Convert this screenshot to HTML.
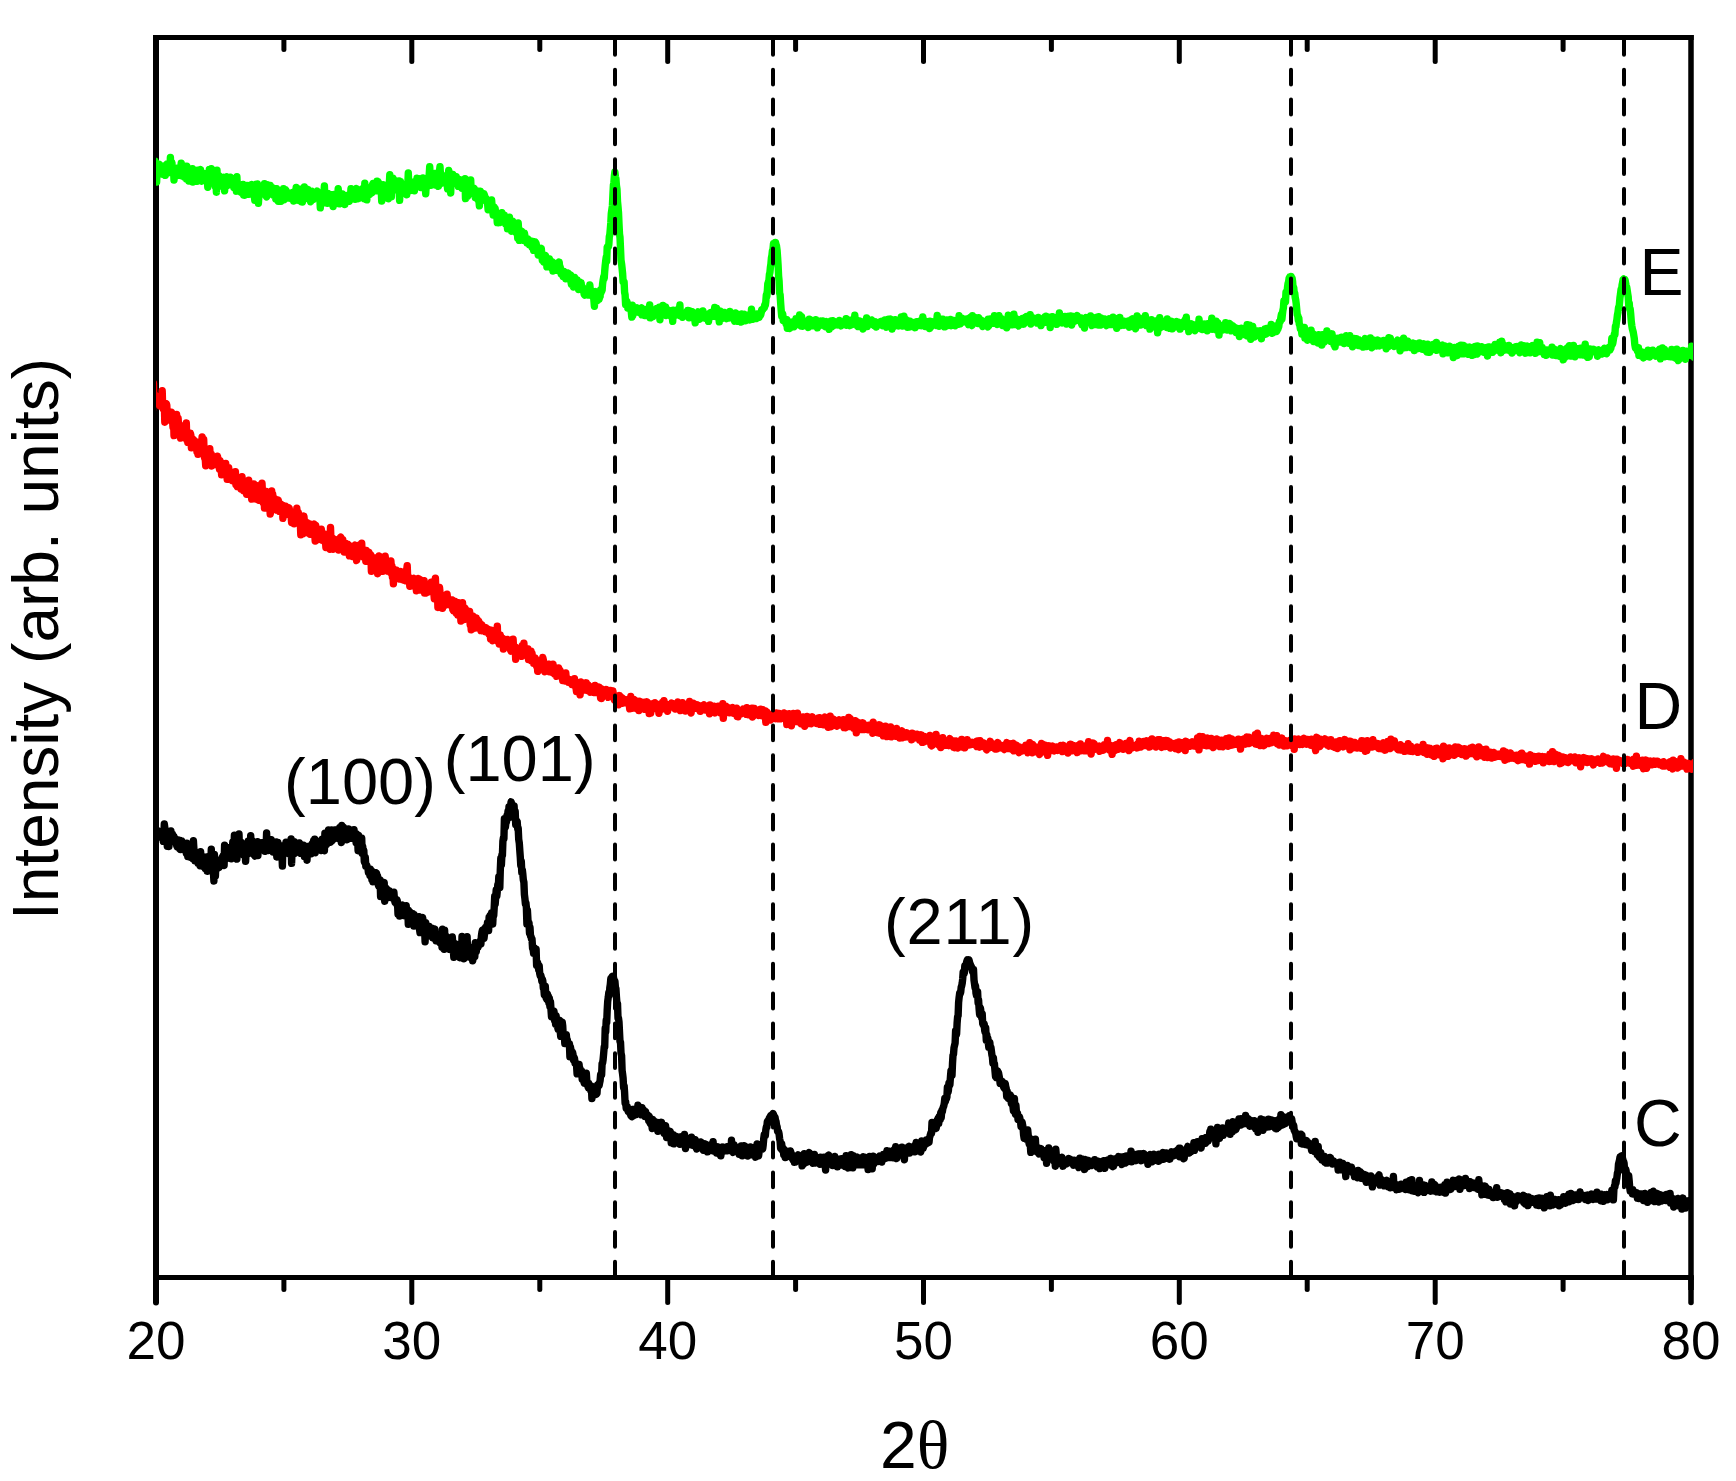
<!DOCTYPE html>
<html><head><meta charset="utf-8"><title>XRD</title>
<style>
html,body{margin:0;padding:0;background:#fff;}
body{width:1736px;height:1481px;overflow:hidden;}
svg{display:block;}
text{font-family:"Liberation Sans",Arial,sans-serif;fill:#000;}
</style></head><body>
<svg width="1736" height="1481" viewBox="0 0 1736 1481">
<rect width="1736" height="1481" fill="#fff"/>
<g stroke="#000" fill="none">
<line x1="156" y1="35" x2="156" y2="1290" stroke-width="6"/>
<line x1="1691" y1="35" x2="1691" y2="1290" stroke-width="5.5"/>
<line x1="153" y1="37.5" x2="1693.7" y2="37.5" stroke-width="5"/>
<line x1="153" y1="1277.5" x2="1693.7" y2="1277.5" stroke-width="5"/>
<g stroke-width="5" stroke-linecap="round"><line x1="156.0" y1="1277.5" x2="156.0" y2="1302.5" stroke-width="6"/><line x1="283.9" y1="1277.5" x2="283.9" y2="1289.5"/><line x1="283.9" y1="37.5" x2="283.9" y2="49.5"/><line x1="411.8" y1="1277.5" x2="411.8" y2="1302.5"/><line x1="411.8" y1="37.5" x2="411.8" y2="61.5"/><line x1="539.8" y1="1277.5" x2="539.8" y2="1289.5"/><line x1="539.8" y1="37.5" x2="539.8" y2="49.5"/><line x1="667.7" y1="1277.5" x2="667.7" y2="1302.5"/><line x1="667.7" y1="37.5" x2="667.7" y2="61.5"/><line x1="795.6" y1="1277.5" x2="795.6" y2="1289.5"/><line x1="795.6" y1="37.5" x2="795.6" y2="49.5"/><line x1="923.5" y1="1277.5" x2="923.5" y2="1302.5"/><line x1="923.5" y1="37.5" x2="923.5" y2="61.5"/><line x1="1051.4" y1="1277.5" x2="1051.4" y2="1289.5"/><line x1="1051.4" y1="37.5" x2="1051.4" y2="49.5"/><line x1="1179.3" y1="1277.5" x2="1179.3" y2="1302.5"/><line x1="1179.3" y1="37.5" x2="1179.3" y2="61.5"/><line x1="1307.2" y1="1277.5" x2="1307.2" y2="1289.5"/><line x1="1307.2" y1="37.5" x2="1307.2" y2="49.5"/><line x1="1435.2" y1="1277.5" x2="1435.2" y2="1302.5"/><line x1="1435.2" y1="37.5" x2="1435.2" y2="61.5"/><line x1="1563.1" y1="1277.5" x2="1563.1" y2="1289.5"/><line x1="1563.1" y1="37.5" x2="1563.1" y2="49.5"/><line x1="1691.0" y1="1277.5" x2="1691.0" y2="1302.5" stroke-width="5.5"/></g>
</g>
<clipPath id="cp"><rect x="156" y="0" width="1537" height="1481"/></clipPath>
<g fill="none" stroke-linejoin="round" stroke-linecap="round" stroke-width="7.4" clip-path="url(#cp)">
<polyline stroke="#00ff00" points="152.0,177.6 152.5,159.3 153.0,171.0 153.5,167.0 154.0,167.4 154.6,168.3 155.1,161.0 155.6,168.1 156.1,165.5 156.6,182.1 157.1,169.7 157.6,167.3 158.1,167.5 158.6,165.9 159.2,164.3 159.7,166.9 160.2,170.3 160.7,167.4 161.2,172.1 161.7,167.4 162.2,168.2 162.7,174.2 163.3,170.1 163.8,165.9 164.3,167.1 164.8,169.9 165.3,175.4 165.8,166.5 166.3,166.6 166.8,171.5 167.3,164.0 167.9,166.5 168.4,171.3 168.9,170.3 169.4,168.6 169.9,171.1 170.4,157.4 170.9,172.9 171.4,165.2 171.9,162.6 172.5,170.6 173.0,172.4 173.5,168.1 174.0,180.1 174.5,170.4 175.0,170.3 175.5,176.3 176.0,173.8 176.6,171.9 177.1,175.7 177.6,170.7 178.1,168.0 178.6,174.2 179.1,174.4 179.6,171.5 180.1,169.4 180.6,173.6 181.2,163.1 181.7,175.9 182.2,175.3 182.7,167.1 183.2,174.0 183.7,170.1 184.2,177.1 184.7,166.3 185.2,170.8 185.8,177.2 186.3,179.1 186.8,166.1 187.3,172.7 187.8,176.0 188.3,172.4 188.8,181.1 189.3,170.2 189.9,176.4 190.4,170.9 190.9,180.6 191.4,175.1 191.9,173.8 192.4,168.6 192.9,182.0 193.4,178.4 193.9,178.4 194.5,180.0 195.0,177.0 195.5,173.2 196.0,172.6 196.5,172.7 197.0,181.3 197.5,170.2 198.0,173.7 198.5,174.8 199.1,177.0 199.6,178.5 200.1,171.4 200.6,169.6 201.1,176.4 201.6,181.2 202.1,179.5 202.6,177.4 203.2,175.4 203.7,177.9 204.2,175.8 204.7,180.1 205.2,173.8 205.7,177.5 206.2,176.6 206.7,179.3 207.2,178.1 207.8,187.2 208.3,183.2 208.8,183.2 209.3,169.5 209.8,176.2 210.3,175.2 210.8,179.7 211.3,168.8 211.8,182.4 212.4,182.1 212.9,173.0 213.4,174.4 213.9,175.2 214.4,178.6 214.9,181.1 215.4,186.7 215.9,178.1 216.4,192.2 217.0,170.2 217.5,186.2 218.0,182.4 218.5,185.0 219.0,175.6 219.5,179.2 220.0,176.9 220.5,186.1 221.1,182.9 221.6,179.3 222.1,178.9 222.6,182.7 223.1,178.2 223.6,177.5 224.1,183.1 224.6,190.9 225.1,180.6 225.7,179.5 226.2,177.3 226.7,176.8 227.2,184.1 227.7,185.5 228.2,182.4 228.7,183.8 229.2,183.1 229.7,183.4 230.3,177.1 230.8,181.3 231.3,183.7 231.8,180.4 232.3,181.7 232.8,180.5 233.3,182.5 233.8,187.3 234.4,182.6 234.9,183.7 235.4,187.5 235.9,187.0 236.4,191.2 236.9,176.8 237.4,188.3 237.9,183.3 238.4,185.8 239.0,188.6 239.5,189.7 240.0,189.7 240.5,186.5 241.0,192.2 241.5,185.1 242.0,185.8 242.5,189.5 243.0,184.5 243.6,195.0 244.1,190.8 244.6,195.3 245.1,187.1 245.6,185.9 246.1,188.1 246.6,190.4 247.1,185.5 247.7,189.4 248.2,188.0 248.7,194.4 249.2,185.8 249.7,192.5 250.2,186.2 250.7,185.1 251.2,186.2 251.7,184.6 252.3,189.8 252.8,193.3 253.3,190.1 253.8,192.0 254.3,196.0 254.8,200.4 255.3,190.8 255.8,189.2 256.3,184.3 256.9,193.4 257.4,184.0 257.9,193.3 258.4,203.2 258.9,195.4 259.4,191.0 259.9,188.3 260.4,192.9 260.9,189.5 261.5,191.0 262.0,191.8 262.5,191.2 263.0,191.0 263.5,188.6 264.0,191.1 264.5,183.8 265.0,191.3 265.6,187.4 266.1,196.2 266.6,196.8 267.1,184.6 267.6,192.6 268.1,191.6 268.6,188.1 269.1,194.1 269.6,190.4 270.2,185.5 270.7,191.2 271.2,191.7 271.7,192.7 272.2,187.7 272.7,194.7 273.2,195.2 273.7,188.1 274.2,190.0 274.8,192.2 275.3,190.4 275.8,199.1 276.3,193.4 276.8,188.8 277.3,189.7 277.8,192.5 278.3,201.3 278.9,192.1 279.4,193.2 279.9,194.7 280.4,192.7 280.9,201.4 281.4,190.9 281.9,195.7 282.4,193.6 282.9,195.3 283.5,188.6 284.0,199.7 284.5,192.6 285.0,193.2 285.5,189.6 286.0,190.4 286.5,195.3 287.0,197.0 287.5,196.1 288.1,197.9 288.6,196.1 289.1,193.5 289.6,196.6 290.1,195.8 290.6,193.2 291.1,196.4 291.6,198.6 292.2,194.7 292.7,192.5 293.2,196.6 293.7,201.1 294.2,193.3 294.7,193.8 295.2,193.7 295.7,198.9 296.2,187.4 296.8,195.8 297.3,198.9 297.8,191.5 298.3,200.2 298.8,196.7 299.3,192.7 299.8,195.5 300.3,189.1 300.8,192.8 301.4,201.8 301.9,191.7 302.4,202.0 302.9,194.9 303.4,198.9 303.9,195.5 304.4,187.0 304.9,193.3 305.5,196.2 306.0,191.2 306.5,190.6 307.0,197.0 307.5,193.3 308.0,189.5 308.5,193.3 309.0,199.1 309.5,194.2 310.1,199.5 310.6,201.8 311.1,196.3 311.6,192.0 312.1,191.5 312.6,196.3 313.1,199.7 313.6,197.5 314.1,198.6 314.7,195.0 315.2,197.8 315.7,195.0 316.2,195.6 316.7,192.0 317.2,191.0 317.7,195.1 318.2,192.8 318.7,193.4 319.3,199.5 319.8,196.6 320.3,207.9 320.8,200.5 321.3,194.8 321.8,200.1 322.3,198.5 322.8,194.7 323.4,201.4 323.9,194.4 324.4,185.9 324.9,200.3 325.4,195.1 325.9,202.9 326.4,195.0 326.9,193.1 327.4,203.3 328.0,193.5 328.5,198.3 329.0,203.0 329.5,198.1 330.0,197.4 330.5,198.1 331.0,200.8 331.5,194.8 332.0,200.1 332.6,200.0 333.1,206.5 333.6,196.6 334.1,194.5 334.6,200.7 335.1,196.5 335.6,199.1 336.1,198.5 336.7,202.4 337.2,195.7 337.7,197.8 338.2,188.7 338.7,194.9 339.2,203.9 339.7,195.7 340.2,195.7 340.7,193.8 341.3,200.5 341.8,199.0 342.3,194.0 342.8,200.9 343.3,199.4 343.8,201.2 344.3,195.8 344.8,204.5 345.3,199.4 345.9,197.2 346.4,195.5 346.9,196.4 347.4,200.3 347.9,195.9 348.4,200.7 348.9,198.7 349.4,201.3 350.0,199.1 350.5,195.7 351.0,188.6 351.5,196.6 352.0,198.3 352.5,195.8 353.0,197.0 353.5,193.0 354.0,193.1 354.6,190.8 355.1,199.3 355.6,194.6 356.1,191.9 356.6,188.6 357.1,192.8 357.6,198.7 358.1,194.8 358.6,190.2 359.2,198.1 359.7,198.0 360.2,196.1 360.7,195.3 361.2,196.5 361.7,194.0 362.2,194.7 362.7,188.7 363.2,197.2 363.8,192.2 364.3,198.8 364.8,183.3 365.3,193.5 365.8,194.4 366.3,189.3 366.8,199.9 367.3,193.1 367.9,192.3 368.4,187.9 368.9,189.2 369.4,193.5 369.9,194.3 370.4,189.7 370.9,189.5 371.4,189.8 371.9,192.8 372.5,184.7 373.0,183.5 373.5,188.8 374.0,184.0 374.5,185.9 375.0,188.3 375.5,189.8 376.0,183.8 376.5,190.9 377.1,181.1 377.6,189.9 378.1,181.8 378.6,182.9 379.1,190.2 379.6,186.1 380.1,184.6 380.6,185.9 381.2,189.3 381.7,201.0 382.2,187.4 382.7,191.5 383.2,184.7 383.7,185.6 384.2,185.4 384.7,191.8 385.2,191.1 385.8,192.2 386.3,187.1 386.8,186.6 387.3,190.4 387.8,185.6 388.3,198.7 388.8,189.8 389.3,184.4 389.8,174.6 390.4,186.5 390.9,193.6 391.4,196.8 391.9,186.5 392.4,186.9 392.9,178.1 393.4,187.6 393.9,186.7 394.5,182.6 395.0,189.7 395.5,180.6 396.0,185.8 396.5,187.1 397.0,181.8 397.5,189.8 398.0,190.5 398.5,181.1 399.1,181.0 399.6,200.4 400.1,186.1 400.6,181.5 401.1,184.9 401.6,185.5 402.1,185.2 402.6,188.9 403.1,187.1 403.7,192.3 404.2,190.7 404.7,187.9 405.2,189.3 405.7,190.2 406.2,187.7 406.7,194.8 407.2,188.1 407.8,185.0 408.3,172.9 408.8,184.8 409.3,186.4 409.8,185.5 410.3,190.6 410.8,184.8 411.3,182.9 411.8,185.1 412.4,182.1 412.9,184.3 413.4,183.5 413.9,184.5 414.4,190.8 414.9,181.7 415.4,183.3 415.9,182.3 416.4,185.6 417.0,178.3 417.5,180.1 418.0,182.5 418.5,184.7 419.0,182.3 419.5,180.4 420.0,178.9 420.5,184.1 421.0,187.6 421.6,183.2 422.1,182.6 422.6,183.5 423.1,178.0 423.6,180.4 424.1,180.4 424.6,182.5 425.1,181.1 425.7,193.8 426.2,185.4 426.7,187.5 427.2,179.9 427.7,182.4 428.2,181.8 428.7,183.8 429.2,175.0 429.7,166.7 430.3,178.8 430.8,185.4 431.3,180.8 431.8,178.9 432.3,179.8 432.8,183.8 433.3,176.9 433.8,178.7 434.3,178.3 434.9,173.4 435.4,185.1 435.9,182.2 436.4,179.8 436.9,184.4 437.4,176.1 437.9,179.4 438.4,186.4 439.0,183.4 439.5,170.9 440.0,166.6 440.5,175.4 441.0,183.5 441.5,177.5 442.0,178.5 442.5,181.7 443.0,175.8 443.6,180.1 444.1,182.3 444.6,181.0 445.1,180.6 445.6,176.7 446.1,181.0 446.6,177.3 447.1,184.0 447.6,188.9 448.2,176.0 448.7,170.4 449.2,177.1 449.7,180.2 450.2,182.8 450.7,193.0 451.2,175.6 451.7,175.5 452.3,183.5 452.8,174.4 453.3,183.0 453.8,178.1 454.3,182.2 454.8,182.3 455.3,182.9 455.8,183.3 456.3,176.6 456.9,181.9 457.4,181.1 457.9,182.6 458.4,186.4 458.9,180.9 459.4,179.5 459.9,179.8 460.4,181.7 460.9,186.1 461.5,180.3 462.0,188.2 462.5,185.2 463.0,183.5 463.5,179.6 464.0,185.9 464.5,187.9 465.0,178.8 465.5,198.6 466.1,192.5 466.6,187.8 467.1,188.7 467.6,196.3 468.1,192.1 468.6,184.3 469.1,187.9 469.6,187.7 470.2,188.1 470.7,180.0 471.2,192.2 471.7,187.3 472.2,190.6 472.7,189.9 473.2,194.0 473.7,190.0 474.2,188.4 474.8,193.8 475.3,197.4 475.8,191.3 476.3,198.0 476.8,194.2 477.3,191.6 477.8,199.6 478.3,191.2 478.8,198.4 479.4,205.9 479.9,197.0 480.4,191.1 480.9,192.9 481.4,200.4 481.9,197.5 482.4,197.5 482.9,196.2 483.5,200.1 484.0,193.8 484.5,195.4 485.0,199.6 485.5,197.6 486.0,198.7 486.5,201.6 487.0,201.9 487.5,202.2 488.1,209.7 488.6,207.8 489.1,209.2 489.6,205.2 490.1,204.0 490.6,201.2 491.1,205.7 491.6,200.0 492.1,206.0 492.7,211.5 493.2,215.1 493.7,213.3 494.2,207.3 494.7,212.8 495.2,208.7 495.7,215.0 496.2,212.2 496.8,216.1 497.3,222.6 497.8,217.3 498.3,222.7 498.8,215.5 499.3,214.2 499.8,220.5 500.3,222.4 500.8,214.8 501.4,217.5 501.9,212.7 502.4,217.5 502.9,221.8 503.4,218.8 503.9,217.6 504.4,215.2 504.9,221.8 505.4,223.8 506.0,223.5 506.5,222.8 507.0,218.0 507.5,228.9 508.0,223.1 508.5,223.3 509.0,226.8 509.5,217.3 510.1,225.0 510.6,225.2 511.1,227.4 511.6,231.2 512.1,228.7 512.6,221.3 513.1,226.9 513.6,229.2 514.1,229.4 514.7,225.1 515.2,224.3 515.7,232.2 516.2,231.9 516.7,231.2 517.2,225.9 517.7,238.0 518.2,222.9 518.7,231.8 519.3,240.4 519.8,233.4 520.3,235.1 520.8,230.9 521.3,239.7 521.8,231.4 522.3,236.9 522.8,236.9 523.3,233.5 523.9,240.3 524.4,233.2 524.9,236.0 525.4,238.6 525.9,237.8 526.4,241.1 526.9,243.0 527.4,239.5 528.0,239.1 528.5,239.6 529.0,240.6 529.5,244.8 530.0,241.9 530.5,244.4 531.0,243.2 531.5,241.2 532.0,247.1 532.6,241.5 533.1,245.3 533.6,250.4 534.1,242.6 534.6,246.4 535.1,242.0 535.6,245.8 536.1,243.2 536.6,247.2 537.2,247.2 537.7,249.9 538.2,255.0 538.7,251.6 539.2,253.4 539.7,251.8 540.2,251.9 540.7,250.7 541.3,248.3 541.8,254.7 542.3,260.2 542.8,257.2 543.3,254.8 543.8,262.1 544.3,256.4 544.8,256.5 545.3,255.3 545.9,256.7 546.4,259.5 546.9,266.9 547.4,260.9 547.9,259.1 548.4,261.0 548.9,262.8 549.4,259.0 549.9,265.1 550.5,267.4 551.0,266.8 551.5,268.0 552.0,262.8 552.5,261.9 553.0,271.0 553.5,270.7 554.0,263.3 554.6,268.7 555.1,268.5 555.6,270.3 556.1,269.6 556.6,267.8 557.1,270.2 557.6,270.3 558.1,270.1 558.6,265.1 559.2,262.1 559.7,268.8 560.2,266.7 560.7,272.4 561.2,274.1 561.7,273.1 562.2,271.5 562.7,273.1 563.2,276.5 563.8,271.4 564.3,276.4 564.8,276.1 565.3,275.2 565.8,278.8 566.3,273.0 566.8,278.0 567.3,273.0 567.8,273.8 568.4,273.4 568.9,278.0 569.4,274.6 569.9,277.9 570.4,275.0 570.9,281.6 571.4,284.2 571.9,280.2 572.5,284.6 573.0,282.0 573.5,287.0 574.0,281.7 574.5,277.5 575.0,286.4 575.5,282.4 576.0,280.4 576.5,281.9 577.1,279.7 577.6,284.2 578.1,282.2 578.6,289.6 579.1,287.8 579.6,282.0 580.1,282.9 580.6,285.9 581.1,282.7 581.7,288.0 582.2,288.7 582.7,287.2 583.2,288.3 583.7,291.5 584.2,294.4 584.7,295.1 585.2,291.6 585.8,294.2 586.3,290.3 586.8,293.6 587.3,290.3 587.8,295.0 588.3,290.1 588.8,291.1 589.3,293.9 589.8,285.0 590.4,290.7 590.9,293.4 591.4,295.4 591.9,295.9 592.4,293.4 592.9,296.2 593.4,295.5 593.9,300.1 594.4,306.3 595.0,293.6 595.5,291.6 596.0,297.9 596.5,300.9 597.0,298.6 597.5,300.7 598.0,297.3 598.5,294.7 599.1,299.4 599.6,296.5 600.1,296.7 600.6,290.0 601.1,292.7 601.6,288.9 602.1,290.5 602.6,283.8 603.1,280.3 603.7,276.8 604.2,278.4 604.7,271.3 605.2,265.4 605.7,261.0 606.2,257.2 606.7,261.0 607.2,247.2 607.7,246.3 608.3,247.0 608.8,244.8 609.3,236.7 609.8,234.8 610.3,229.0 610.8,223.0 611.3,213.5 611.8,209.9 612.4,206.0 612.9,195.2 613.4,185.2 613.9,182.4 614.4,175.7 614.9,172.1 615.4,176.5 615.9,178.6 616.4,185.4 617.0,189.4 617.5,201.3 618.0,206.5 618.5,212.5 619.0,224.0 619.5,234.0 620.0,237.4 620.5,248.4 621.0,260.1 621.6,264.0 622.1,268.5 622.6,273.3 623.1,281.9 623.6,281.2 624.1,281.8 624.6,292.4 625.1,294.7 625.6,304.5 626.2,302.4 626.7,301.2 627.2,302.5 627.7,308.0 628.2,305.6 628.7,306.8 629.2,308.2 629.7,308.8 630.3,308.9 630.8,309.0 631.3,312.1 631.8,317.0 632.3,305.1 632.8,315.5 633.3,309.7 633.8,312.5 634.3,307.8 634.9,310.5 635.4,310.3 635.9,310.2 636.4,312.1 636.9,311.7 637.4,307.8 637.9,310.1 638.4,312.2 638.9,312.2 639.5,309.9 640.0,310.1 640.5,310.5 641.0,308.3 641.5,307.9 642.0,314.9 642.5,310.1 643.0,311.4 643.6,309.3 644.1,314.3 644.6,315.5 645.1,310.7 645.6,312.5 646.1,309.5 646.6,315.6 647.1,313.6 647.6,309.4 648.2,314.5 648.7,312.4 649.2,312.5 649.7,304.9 650.2,317.9 650.7,310.3 651.2,313.2 651.7,311.6 652.2,309.4 652.8,316.7 653.3,311.3 653.8,310.5 654.3,310.2 654.8,313.5 655.3,314.3 655.8,312.5 656.3,314.1 656.9,308.4 657.4,311.1 657.9,310.9 658.4,312.1 658.9,313.3 659.4,307.2 659.9,319.7 660.4,310.1 660.9,313.1 661.5,314.3 662.0,314.4 662.5,312.9 663.0,305.4 663.5,309.8 664.0,314.3 664.5,310.3 665.0,310.0 665.5,306.9 666.1,315.5 666.6,313.8 667.1,310.5 667.6,312.3 668.1,312.4 668.6,310.0 669.1,312.1 669.6,313.4 670.1,314.2 670.7,315.9 671.2,313.0 671.7,311.9 672.2,314.0 672.7,321.4 673.2,310.1 673.7,315.9 674.2,312.3 674.8,313.6 675.3,314.9 675.8,310.7 676.3,315.0 676.8,314.5 677.3,313.3 677.8,314.5 678.3,311.8 678.8,308.4 679.4,313.0 679.9,305.0 680.4,315.9 680.9,314.5 681.4,312.6 681.9,314.1 682.4,317.3 682.9,316.8 683.4,315.0 684.0,315.2 684.5,313.6 685.0,314.0 685.5,315.7 686.0,314.1 686.5,315.1 687.0,311.8 687.5,310.5 688.1,310.5 688.6,313.6 689.1,317.8 689.6,317.5 690.1,312.4 690.6,311.1 691.1,316.8 691.6,316.0 692.1,311.7 692.7,317.5 693.2,315.5 693.7,318.3 694.2,316.0 694.7,317.3 695.2,322.9 695.7,313.1 696.2,314.8 696.7,313.8 697.3,317.4 697.8,313.2 698.3,311.9 698.8,317.2 699.3,318.4 699.8,319.1 700.3,318.4 700.8,312.2 701.4,314.2 701.9,314.6 702.4,315.9 702.9,310.9 703.4,315.9 703.9,316.5 704.4,313.5 704.9,315.9 705.4,318.3 706.0,315.5 706.5,317.8 707.0,317.6 707.5,316.0 708.0,315.9 708.5,321.4 709.0,317.7 709.5,313.5 710.0,312.9 710.6,316.1 711.1,312.6 711.6,315.2 712.1,316.6 712.6,314.2 713.1,314.1 713.6,316.0 714.1,315.4 714.7,307.5 715.2,310.3 715.7,316.5 716.2,314.2 716.7,308.2 717.2,309.9 717.7,313.3 718.2,311.0 718.7,314.7 719.3,321.9 719.8,315.0 720.3,311.2 720.8,315.6 721.3,318.9 721.8,312.5 722.3,317.7 722.8,317.0 723.3,316.4 723.9,314.8 724.4,312.4 724.9,313.2 725.4,317.3 725.9,317.9 726.4,318.6 726.9,318.2 727.4,318.2 727.9,315.1 728.5,313.5 729.0,316.9 729.5,317.8 730.0,311.4 730.5,313.3 731.0,315.8 731.5,313.7 732.0,317.7 732.6,315.0 733.1,317.2 733.6,318.5 734.1,318.2 734.6,321.2 735.1,315.4 735.6,312.9 736.1,320.2 736.6,321.2 737.2,321.3 737.7,318.5 738.2,319.1 738.7,318.1 739.2,314.7 739.7,316.4 740.2,318.9 740.7,316.3 741.2,322.1 741.8,314.0 742.3,316.6 742.8,320.2 743.3,316.1 743.8,314.8 744.3,314.3 744.8,315.7 745.3,320.9 745.9,318.3 746.4,318.5 746.9,316.1 747.4,319.2 747.9,317.5 748.4,315.0 748.9,316.1 749.4,317.6 749.9,319.9 750.5,316.9 751.0,318.2 751.5,309.2 752.0,315.1 752.5,314.0 753.0,319.2 753.5,317.9 754.0,316.6 754.5,317.4 755.1,316.0 755.6,318.0 756.1,315.9 756.6,318.6 757.1,313.9 757.6,314.6 758.1,316.6 758.6,314.9 759.2,317.3 759.7,315.2 760.2,313.6 760.7,315.0 761.2,312.8 761.7,309.9 762.2,310.1 762.7,309.6 763.2,308.7 763.8,308.0 764.3,307.8 764.8,304.7 765.3,305.6 765.8,301.8 766.3,295.0 766.8,296.5 767.3,291.7 767.8,283.7 768.4,282.1 768.9,280.5 769.4,274.5 769.9,272.6 770.4,267.3 770.9,264.0 771.4,258.0 771.9,255.6 772.4,250.9 773.0,249.1 773.5,243.6 774.0,243.8 774.5,243.5 775.0,242.5 775.5,242.5 776.0,244.5 776.5,246.0 777.1,250.5 777.6,257.5 778.1,265.6 778.6,276.2 779.1,281.1 779.6,293.1 780.1,294.6 780.6,302.4 781.1,309.3 781.7,316.3 782.2,315.4 782.7,313.7 783.2,320.6 783.7,320.2 784.2,318.4 784.7,319.1 785.2,320.5 785.7,322.8 786.3,324.5 786.8,319.7 787.3,328.4 787.8,323.0 788.3,322.3 788.8,324.7 789.3,323.4 789.8,328.5 790.4,325.7 790.9,322.3 791.4,322.2 791.9,322.0 792.4,322.4 792.9,324.7 793.4,321.7 793.9,326.9 794.4,323.0 795.0,322.8 795.5,325.3 796.0,318.6 796.5,321.0 797.0,324.6 797.5,323.2 798.0,323.2 798.5,317.8 799.0,321.8 799.6,315.0 800.1,320.1 800.6,318.9 801.1,326.1 801.6,316.8 802.1,321.6 802.6,326.4 803.1,325.7 803.7,322.0 804.2,322.0 804.7,323.0 805.2,321.0 805.7,324.5 806.2,323.6 806.7,323.5 807.2,325.0 807.7,324.9 808.3,327.5 808.8,326.7 809.3,319.3 809.8,325.3 810.3,320.7 810.8,320.0 811.3,324.9 811.8,321.7 812.3,322.6 812.9,325.7 813.4,321.8 813.9,321.3 814.4,324.1 814.9,326.1 815.4,324.5 815.9,319.8 816.4,321.8 817.0,323.0 817.5,327.8 818.0,325.4 818.5,325.3 819.0,326.1 819.5,322.6 820.0,324.4 820.5,324.5 821.0,321.1 821.6,323.3 822.1,324.7 822.6,320.9 823.1,325.2 823.6,325.1 824.1,325.8 824.6,321.6 825.1,323.6 825.6,326.7 826.2,325.2 826.7,321.6 827.2,323.9 827.7,326.7 828.2,323.2 828.7,324.3 829.2,329.3 829.7,323.3 830.2,323.2 830.8,321.1 831.3,321.9 831.8,326.8 832.3,323.1 832.8,320.7 833.3,321.3 833.8,323.5 834.3,325.2 834.9,321.7 835.4,325.1 835.9,322.3 836.4,324.3 836.9,324.6 837.4,324.8 837.9,322.5 838.4,323.1 838.9,324.6 839.5,320.5 840.0,323.8 840.5,324.6 841.0,325.8 841.5,323.3 842.0,323.0 842.5,323.7 843.0,321.7 843.5,322.9 844.1,324.4 844.6,324.1 845.1,321.0 845.6,322.7 846.1,318.6 846.6,325.2 847.1,322.2 847.6,323.9 848.2,320.9 848.7,323.2 849.2,324.4 849.7,325.6 850.2,320.3 850.7,325.3 851.2,323.0 851.7,321.6 852.2,324.5 852.8,322.7 853.3,322.7 853.8,321.8 854.3,323.9 854.8,315.3 855.3,323.0 855.8,321.2 856.3,322.2 856.8,324.3 857.4,326.3 857.9,323.3 858.4,326.6 858.9,323.3 859.4,320.9 859.9,324.8 860.4,321.1 860.9,324.3 861.5,325.8 862.0,322.6 862.5,323.2 863.0,329.0 863.5,323.9 864.0,324.0 864.5,325.1 865.0,323.1 865.5,323.2 866.1,324.2 866.6,317.9 867.1,326.6 867.6,320.9 868.1,320.9 868.6,324.6 869.1,323.4 869.6,320.5 870.1,323.8 870.7,320.7 871.2,321.8 871.7,319.9 872.2,321.5 872.7,324.3 873.2,323.6 873.7,324.1 874.2,325.5 874.7,323.3 875.3,321.8 875.8,322.7 876.3,327.1 876.8,323.4 877.3,324.1 877.8,323.1 878.3,323.9 878.8,324.3 879.4,323.3 879.9,323.0 880.4,321.6 880.9,321.4 881.4,324.3 881.9,325.1 882.4,325.5 882.9,323.5 883.4,321.5 884.0,324.8 884.5,324.8 885.0,319.9 885.5,325.2 886.0,324.7 886.5,327.2 887.0,320.8 887.5,320.4 888.0,325.2 888.6,319.3 889.1,321.7 889.6,320.9 890.1,321.0 890.6,319.0 891.1,322.8 891.6,325.6 892.1,329.1 892.7,324.4 893.2,322.6 893.7,326.7 894.2,324.6 894.7,325.8 895.2,319.8 895.7,324.2 896.2,320.8 896.7,324.2 897.3,323.8 897.8,320.8 898.3,323.8 898.8,326.0 899.3,324.5 899.8,324.7 900.3,321.4 900.8,321.8 901.3,317.0 901.9,323.7 902.4,326.1 902.9,324.4 903.4,323.4 903.9,316.3 904.4,324.4 904.9,322.9 905.4,319.1 906.0,319.5 906.5,322.6 907.0,321.4 907.5,327.2 908.0,323.5 908.5,321.0 909.0,322.2 909.5,327.0 910.0,321.2 910.6,325.1 911.1,324.3 911.6,326.6 912.1,324.5 912.6,322.3 913.1,324.5 913.6,323.4 914.1,325.4 914.6,323.1 915.2,327.7 915.7,323.0 916.2,324.2 916.7,321.7 917.2,323.4 917.7,323.2 918.2,323.5 918.7,325.2 919.3,321.9 919.8,321.2 920.3,325.6 920.8,322.4 921.3,321.5 921.8,325.7 922.3,324.8 922.8,317.0 923.3,322.1 923.9,324.8 924.4,324.9 924.9,321.8 925.4,326.5 925.9,321.1 926.4,322.4 926.9,323.2 927.4,322.9 927.9,324.7 928.5,325.2 929.0,322.8 929.5,328.5 930.0,321.3 930.5,322.3 931.0,326.7 931.5,323.0 932.0,325.2 932.5,321.8 933.1,322.1 933.6,322.5 934.1,323.1 934.6,321.9 935.1,322.7 935.6,324.2 936.1,325.4 936.6,322.9 937.2,315.5 937.7,324.7 938.2,320.2 938.7,319.0 939.2,326.3 939.7,325.6 940.2,322.7 940.7,323.4 941.2,320.4 941.8,319.4 942.3,323.2 942.8,319.1 943.3,324.6 943.8,320.9 944.3,323.1 944.8,326.9 945.3,326.7 945.8,321.8 946.4,324.8 946.9,320.0 947.4,321.0 947.9,323.2 948.4,325.5 948.9,321.0 949.4,323.6 949.9,322.5 950.5,319.4 951.0,322.0 951.5,325.7 952.0,322.0 952.5,323.4 953.0,324.1 953.5,320.5 954.0,325.0 954.5,325.6 955.1,325.8 955.6,325.1 956.1,321.1 956.6,320.8 957.1,320.3 957.6,320.0 958.1,320.2 958.6,324.3 959.1,315.8 959.7,320.5 960.2,323.9 960.7,319.1 961.2,321.2 961.7,319.7 962.2,318.2 962.7,322.0 963.2,322.1 963.8,321.0 964.3,320.7 964.8,319.6 965.3,321.5 965.8,320.4 966.3,322.4 966.8,319.0 967.3,322.3 967.8,322.9 968.4,324.6 968.9,324.2 969.4,322.2 969.9,320.1 970.4,317.5 970.9,321.7 971.4,324.9 971.9,325.5 972.4,315.8 973.0,319.9 973.5,320.8 974.0,319.2 974.5,322.0 975.0,321.6 975.5,320.4 976.0,321.4 976.5,317.8 977.0,319.3 977.6,319.4 978.1,323.5 978.6,317.7 979.1,321.0 979.6,323.2 980.1,321.3 980.6,323.3 981.1,319.9 981.7,322.4 982.2,323.5 982.7,326.5 983.2,323.0 983.7,324.7 984.2,321.4 984.7,321.6 985.2,325.0 985.7,322.7 986.3,324.6 986.8,322.9 987.3,326.2 987.8,326.8 988.3,319.3 988.8,325.6 989.3,322.3 989.8,322.4 990.3,321.0 990.9,322.9 991.4,318.7 991.9,319.5 992.4,319.4 992.9,321.9 993.4,323.3 993.9,322.9 994.4,315.7 995.0,319.8 995.5,317.1 996.0,322.1 996.5,321.5 997.0,321.9 997.5,324.4 998.0,320.7 998.5,320.6 999.0,315.7 999.6,322.4 1000.1,320.9 1000.6,319.3 1001.1,321.9 1001.6,318.6 1002.1,319.8 1002.6,325.5 1003.1,322.7 1003.6,323.1 1004.2,322.7 1004.7,322.4 1005.2,321.4 1005.7,326.2 1006.2,320.7 1006.7,327.7 1007.2,320.4 1007.7,320.1 1008.3,315.2 1008.8,316.4 1009.3,324.4 1009.8,324.3 1010.3,319.8 1010.8,320.7 1011.3,322.2 1011.8,318.5 1012.3,324.9 1012.9,318.3 1013.4,319.1 1013.9,314.3 1014.4,324.2 1014.9,320.8 1015.4,324.5 1015.9,318.4 1016.4,321.5 1016.9,320.8 1017.5,321.1 1018.0,325.4 1018.5,325.9 1019.0,323.8 1019.5,319.7 1020.0,322.7 1020.5,323.7 1021.0,321.9 1021.6,321.9 1022.1,321.7 1022.6,318.4 1023.1,321.1 1023.6,324.2 1024.1,318.2 1024.6,320.7 1025.1,322.4 1025.6,317.3 1026.2,320.1 1026.7,316.5 1027.2,319.0 1027.7,317.1 1028.2,318.3 1028.7,319.3 1029.2,319.7 1029.7,319.9 1030.2,314.8 1030.8,324.0 1031.3,319.7 1031.8,317.8 1032.3,318.8 1032.8,321.0 1033.3,317.9 1033.8,319.3 1034.3,319.2 1034.8,321.5 1035.4,318.5 1035.9,321.3 1036.4,321.0 1036.9,319.8 1037.4,323.1 1037.9,320.2 1038.4,317.4 1038.9,320.8 1039.5,320.4 1040.0,320.0 1040.5,320.7 1041.0,325.6 1041.5,320.6 1042.0,321.1 1042.5,319.5 1043.0,323.1 1043.5,319.9 1044.1,318.2 1044.6,317.2 1045.1,321.2 1045.6,321.7 1046.1,316.3 1046.6,318.3 1047.1,321.5 1047.6,322.4 1048.1,316.9 1048.7,319.1 1049.2,321.9 1049.7,318.8 1050.2,327.5 1050.7,318.7 1051.2,317.0 1051.7,320.1 1052.2,320.7 1052.8,316.7 1053.3,320.2 1053.8,322.6 1054.3,320.5 1054.8,322.2 1055.3,318.7 1055.8,323.2 1056.3,318.2 1056.8,324.4 1057.4,319.0 1057.9,318.3 1058.4,317.9 1058.9,319.0 1059.4,312.9 1059.9,318.4 1060.4,319.2 1060.9,321.5 1061.4,322.0 1062.0,319.2 1062.5,322.9 1063.0,317.7 1063.5,317.6 1064.0,317.4 1064.5,321.4 1065.0,316.4 1065.5,316.7 1066.1,323.0 1066.6,324.0 1067.1,323.1 1067.6,316.5 1068.1,320.0 1068.6,321.9 1069.1,320.2 1069.6,316.2 1070.1,319.2 1070.7,316.0 1071.2,317.1 1071.7,325.0 1072.2,321.6 1072.7,316.6 1073.2,316.5 1073.7,321.0 1074.2,318.6 1074.7,321.3 1075.3,318.5 1075.8,319.5 1076.3,320.5 1076.8,317.6 1077.3,315.5 1077.8,317.2 1078.3,318.4 1078.8,319.5 1079.3,319.8 1079.9,319.8 1080.4,321.2 1080.9,317.9 1081.4,323.3 1081.9,324.7 1082.4,321.0 1082.9,320.6 1083.4,323.1 1084.0,321.7 1084.5,328.0 1085.0,319.9 1085.5,318.6 1086.0,317.6 1086.5,321.9 1087.0,323.1 1087.5,317.9 1088.0,320.3 1088.6,321.0 1089.1,319.5 1089.6,318.7 1090.1,319.6 1090.6,316.0 1091.1,320.5 1091.6,319.9 1092.1,325.6 1092.6,322.9 1093.2,319.9 1093.7,320.7 1094.2,324.7 1094.7,324.5 1095.2,321.3 1095.7,320.6 1096.2,317.6 1096.7,320.2 1097.3,320.6 1097.8,319.3 1098.3,325.0 1098.8,316.7 1099.3,320.8 1099.8,322.0 1100.3,322.1 1100.8,325.1 1101.3,318.0 1101.9,319.5 1102.4,321.5 1102.9,321.6 1103.4,320.4 1103.9,319.6 1104.4,323.8 1104.9,319.0 1105.4,320.1 1105.9,324.8 1106.5,325.5 1107.0,323.5 1107.5,319.6 1108.0,319.6 1108.5,319.5 1109.0,319.0 1109.5,320.7 1110.0,324.6 1110.6,322.2 1111.1,320.0 1111.6,320.0 1112.1,319.1 1112.6,324.6 1113.1,317.2 1113.6,322.5 1114.1,318.6 1114.6,319.5 1115.2,318.5 1115.7,324.2 1116.2,321.8 1116.7,328.3 1117.2,319.7 1117.7,319.5 1118.2,323.4 1118.7,323.4 1119.2,321.5 1119.8,317.5 1120.3,325.5 1120.8,323.5 1121.3,323.1 1121.8,320.9 1122.3,323.7 1122.8,321.0 1123.3,322.4 1123.9,321.9 1124.4,325.2 1124.9,321.3 1125.4,321.6 1125.9,324.9 1126.4,322.9 1126.9,322.4 1127.4,321.9 1127.9,324.6 1128.5,321.0 1129.0,323.6 1129.5,327.2 1130.0,323.5 1130.5,320.8 1131.0,319.8 1131.5,322.9 1132.0,319.8 1132.5,319.0 1133.1,320.9 1133.6,320.2 1134.1,324.7 1134.6,319.4 1135.1,326.4 1135.6,328.8 1136.1,323.0 1136.6,324.3 1137.1,315.9 1137.7,324.5 1138.2,320.6 1138.7,317.7 1139.2,322.4 1139.7,319.1 1140.2,321.6 1140.7,325.1 1141.2,322.5 1141.8,321.6 1142.3,320.4 1142.8,322.4 1143.3,322.7 1143.8,319.4 1144.3,323.8 1144.8,320.7 1145.3,315.6 1145.8,322.1 1146.4,325.5 1146.9,325.2 1147.4,323.2 1147.9,323.0 1148.4,324.3 1148.9,326.5 1149.4,325.8 1149.9,329.1 1150.4,324.1 1151.0,327.0 1151.5,319.7 1152.0,324.7 1152.5,321.4 1153.0,326.6 1153.5,322.4 1154.0,323.3 1154.5,321.1 1155.1,323.7 1155.6,325.5 1156.1,327.5 1156.6,320.8 1157.1,322.8 1157.6,332.8 1158.1,326.0 1158.6,323.8 1159.1,325.1 1159.7,317.8 1160.2,327.6 1160.7,324.3 1161.2,320.7 1161.7,326.7 1162.2,322.6 1162.7,321.7 1163.2,325.3 1163.7,325.0 1164.3,323.1 1164.8,324.0 1165.3,321.1 1165.8,320.9 1166.3,326.3 1166.8,327.3 1167.3,318.9 1167.8,325.2 1168.4,323.4 1168.9,324.0 1169.4,322.2 1169.9,328.4 1170.4,323.1 1170.9,325.4 1171.4,324.5 1171.9,321.3 1172.4,328.9 1173.0,323.7 1173.5,322.8 1174.0,324.8 1174.5,322.5 1175.0,324.7 1175.5,322.4 1176.0,325.9 1176.5,324.8 1177.0,321.6 1177.6,327.1 1178.1,325.2 1178.6,322.2 1179.1,325.6 1179.6,325.8 1180.1,329.1 1180.6,322.9 1181.1,326.8 1181.6,324.7 1182.2,326.3 1182.7,324.4 1183.2,324.8 1183.7,326.1 1184.2,322.3 1184.7,320.3 1185.2,325.1 1185.7,324.1 1186.3,317.3 1186.8,326.7 1187.3,324.7 1187.8,328.0 1188.3,325.2 1188.8,331.6 1189.3,327.3 1189.8,326.7 1190.3,325.2 1190.9,325.7 1191.4,323.8 1191.9,324.1 1192.4,325.8 1192.9,327.4 1193.4,324.6 1193.9,327.6 1194.4,330.1 1194.9,330.6 1195.5,325.8 1196.0,328.2 1196.5,327.2 1197.0,327.6 1197.5,327.8 1198.0,327.1 1198.5,327.8 1199.0,319.1 1199.6,325.4 1200.1,326.6 1200.6,327.2 1201.1,328.9 1201.6,327.0 1202.1,327.9 1202.6,329.5 1203.1,324.1 1203.6,325.7 1204.2,327.5 1204.7,326.4 1205.2,324.0 1205.7,328.6 1206.2,326.3 1206.7,324.2 1207.2,330.8 1207.7,323.6 1208.2,326.5 1208.8,325.0 1209.3,326.8 1209.8,327.9 1210.3,324.8 1210.8,326.4 1211.3,326.4 1211.8,318.3 1212.3,329.4 1212.9,327.2 1213.4,326.2 1213.9,325.3 1214.4,326.1 1214.9,327.2 1215.4,325.9 1215.9,329.8 1216.4,321.2 1216.9,322.1 1217.5,326.5 1218.0,322.9 1218.5,327.0 1219.0,335.1 1219.5,328.6 1220.0,328.3 1220.5,330.4 1221.0,329.6 1221.5,330.4 1222.1,328.8 1222.6,330.1 1223.1,328.9 1223.6,326.5 1224.1,325.1 1224.6,325.2 1225.1,329.2 1225.6,322.7 1226.2,328.6 1226.7,326.6 1227.2,330.0 1227.7,328.9 1228.2,326.8 1228.7,328.6 1229.2,323.5 1229.7,329.3 1230.2,329.9 1230.8,324.7 1231.3,330.9 1231.8,328.8 1232.3,329.5 1232.8,326.0 1233.3,330.6 1233.8,330.6 1234.3,329.4 1234.8,327.3 1235.4,331.3 1235.9,332.4 1236.4,330.6 1236.9,332.0 1237.4,328.5 1237.9,330.3 1238.4,330.9 1238.9,330.4 1239.4,336.5 1240.0,331.2 1240.5,329.1 1241.0,332.3 1241.5,328.1 1242.0,331.4 1242.5,332.4 1243.0,329.6 1243.5,330.1 1244.1,328.8 1244.6,331.3 1245.1,329.5 1245.6,335.0 1246.1,332.7 1246.6,330.8 1247.1,324.6 1247.6,336.0 1248.1,334.4 1248.7,332.7 1249.2,332.1 1249.7,325.2 1250.2,330.8 1250.7,339.3 1251.2,332.4 1251.7,328.8 1252.2,330.6 1252.7,326.4 1253.3,333.7 1253.8,333.9 1254.3,336.1 1254.8,336.8 1255.3,330.4 1255.8,333.1 1256.3,334.3 1256.8,333.8 1257.4,330.9 1257.9,333.8 1258.4,333.1 1258.9,335.0 1259.4,331.8 1259.9,331.3 1260.4,330.7 1260.9,330.9 1261.4,338.8 1262.0,331.0 1262.5,332.8 1263.0,332.7 1263.5,334.6 1264.0,334.1 1264.5,333.0 1265.0,329.0 1265.5,332.8 1266.0,334.1 1266.6,328.5 1267.1,328.9 1267.6,329.3 1268.1,329.0 1268.6,330.7 1269.1,329.2 1269.6,332.1 1270.1,328.5 1270.7,330.9 1271.2,324.5 1271.7,328.9 1272.2,333.4 1272.7,331.0 1273.2,331.9 1273.7,329.8 1274.2,332.0 1274.7,331.6 1275.3,329.7 1275.8,325.9 1276.3,331.6 1276.8,331.1 1277.3,329.7 1277.8,329.2 1278.3,327.8 1278.8,326.4 1279.3,321.9 1279.9,322.2 1280.4,321.2 1280.9,317.1 1281.4,314.4 1281.9,319.2 1282.4,314.3 1282.9,310.3 1283.4,307.9 1283.9,300.9 1284.5,301.5 1285.0,301.5 1285.5,301.9 1286.0,291.9 1286.5,291.6 1287.0,292.9 1287.5,287.5 1288.0,283.8 1288.6,281.7 1289.1,278.3 1289.6,277.2 1290.1,278.9 1290.6,277.7 1291.1,276.5 1291.6,279.7 1292.1,278.1 1292.6,281.5 1293.2,289.8 1293.7,287.4 1294.2,292.7 1294.7,292.8 1295.2,297.4 1295.7,299.7 1296.2,303.6 1296.7,309.1 1297.2,314.7 1297.8,315.7 1298.3,320.1 1298.8,317.8 1299.3,324.6 1299.8,324.7 1300.3,328.5 1300.8,326.5 1301.3,328.9 1301.9,334.2 1302.4,333.8 1302.9,333.6 1303.4,332.7 1303.9,334.7 1304.4,327.4 1304.9,338.1 1305.4,336.0 1305.9,337.0 1306.5,339.0 1307.0,335.7 1307.5,340.2 1308.0,338.2 1308.5,337.9 1309.0,332.9 1309.5,334.7 1310.0,336.0 1310.5,337.0 1311.1,330.3 1311.6,339.2 1312.1,338.6 1312.6,337.8 1313.1,333.9 1313.6,341.5 1314.1,337.9 1314.6,339.8 1315.2,337.0 1315.7,338.5 1316.2,340.1 1316.7,339.1 1317.2,340.7 1317.7,338.3 1318.2,343.1 1318.7,334.6 1319.2,337.5 1319.8,340.9 1320.3,338.3 1320.8,337.9 1321.3,335.0 1321.8,345.1 1322.3,334.7 1322.8,340.1 1323.3,339.4 1323.8,340.9 1324.4,342.2 1324.9,337.5 1325.4,337.3 1325.9,338.4 1326.4,335.4 1326.9,330.9 1327.4,338.3 1327.9,339.6 1328.5,336.8 1329.0,339.3 1329.5,337.9 1330.0,339.1 1330.5,336.9 1331.0,341.6 1331.5,338.0 1332.0,333.8 1332.5,340.9 1333.1,338.8 1333.6,337.6 1334.1,345.0 1334.6,339.5 1335.1,346.9 1335.6,338.3 1336.1,340.6 1336.6,339.3 1337.1,342.5 1337.7,342.2 1338.2,338.2 1338.7,340.1 1339.2,341.4 1339.7,339.2 1340.2,339.1 1340.7,342.1 1341.2,341.2 1341.7,337.2 1342.3,339.1 1342.8,339.5 1343.3,340.2 1343.8,338.9 1344.3,343.5 1344.8,338.5 1345.3,338.3 1345.8,341.2 1346.4,335.8 1346.9,338.5 1347.4,342.2 1347.9,338.0 1348.4,339.1 1348.9,343.4 1349.4,342.1 1349.9,335.8 1350.4,341.7 1351.0,339.7 1351.5,341.9 1352.0,340.9 1352.5,346.8 1353.0,342.6 1353.5,340.7 1354.0,341.4 1354.5,341.7 1355.0,338.6 1355.6,339.9 1356.1,345.1 1356.6,338.7 1357.1,340.6 1357.6,344.1 1358.1,345.3 1358.6,339.8 1359.1,345.3 1359.7,341.3 1360.2,345.8 1360.7,343.3 1361.2,341.7 1361.7,343.9 1362.2,343.6 1362.7,340.7 1363.2,347.1 1363.7,341.7 1364.3,345.0 1364.8,341.5 1365.3,338.6 1365.8,340.1 1366.3,342.4 1366.8,344.1 1367.3,346.5 1367.8,342.8 1368.3,342.1 1368.9,340.0 1369.4,342.6 1369.9,343.4 1370.4,338.0 1370.9,345.7 1371.4,345.3 1371.9,347.8 1372.4,340.9 1373.0,343.0 1373.5,343.0 1374.0,340.1 1374.5,341.1 1375.0,340.9 1375.5,344.2 1376.0,344.0 1376.5,346.0 1377.0,342.2 1377.6,340.1 1378.1,344.1 1378.6,344.0 1379.1,344.7 1379.6,345.9 1380.1,342.0 1380.6,345.0 1381.1,341.1 1381.6,343.7 1382.2,344.9 1382.7,343.1 1383.2,343.9 1383.7,340.4 1384.2,342.1 1384.7,343.8 1385.2,340.9 1385.7,341.7 1386.2,348.8 1386.8,344.1 1387.3,341.8 1387.8,341.4 1388.3,346.6 1388.8,337.6 1389.3,342.9 1389.8,345.0 1390.3,338.2 1390.9,344.8 1391.4,341.4 1391.9,343.7 1392.4,343.9 1392.9,343.9 1393.4,344.2 1393.9,344.0 1394.4,346.4 1394.9,343.5 1395.5,342.8 1396.0,343.5 1396.5,343.5 1397.0,340.9 1397.5,340.1 1398.0,341.4 1398.5,345.0 1399.0,343.0 1399.5,343.6 1400.1,350.7 1400.6,347.0 1401.1,344.2 1401.6,343.3 1402.1,347.7 1402.6,343.1 1403.1,347.5 1403.6,338.1 1404.2,347.9 1404.7,343.4 1405.2,347.0 1405.7,341.2 1406.2,344.8 1406.7,347.5 1407.2,346.7 1407.7,341.3 1408.2,346.8 1408.8,346.4 1409.3,345.3 1409.8,343.9 1410.3,344.9 1410.8,344.3 1411.3,347.7 1411.8,346.7 1412.3,348.0 1412.8,347.3 1413.4,343.1 1413.9,346.2 1414.4,350.6 1414.9,343.6 1415.4,346.6 1415.9,344.4 1416.4,344.2 1416.9,346.6 1417.5,348.2 1418.0,347.9 1418.5,347.3 1419.0,348.4 1419.5,342.9 1420.0,348.3 1420.5,347.4 1421.0,346.2 1421.5,346.6 1422.1,344.9 1422.6,349.3 1423.1,345.2 1423.6,343.7 1424.1,346.9 1424.6,345.7 1425.1,346.9 1425.6,350.3 1426.1,346.8 1426.7,347.4 1427.2,352.1 1427.7,344.3 1428.2,348.1 1428.7,349.9 1429.2,350.7 1429.7,352.3 1430.2,346.1 1430.8,348.9 1431.3,347.4 1431.8,346.7 1432.3,346.2 1432.8,344.6 1433.3,348.5 1433.8,349.5 1434.3,345.6 1434.8,349.5 1435.4,346.8 1435.9,345.8 1436.4,342.4 1436.9,350.4 1437.4,349.6 1437.9,347.4 1438.4,347.3 1438.9,345.4 1439.4,349.3 1440.0,348.1 1440.5,349.5 1441.0,348.7 1441.5,345.3 1442.0,345.1 1442.5,349.3 1443.0,353.9 1443.5,349.1 1444.0,350.5 1444.6,345.8 1445.1,350.1 1445.6,348.8 1446.1,349.9 1446.6,347.4 1447.1,348.8 1447.6,349.8 1448.1,352.8 1448.7,350.5 1449.2,350.0 1449.7,346.2 1450.2,349.8 1450.7,347.6 1451.2,349.0 1451.7,349.8 1452.2,351.3 1452.7,350.5 1453.3,357.5 1453.8,349.2 1454.3,352.3 1454.8,347.5 1455.3,349.5 1455.8,352.4 1456.3,349.1 1456.8,351.3 1457.3,355.5 1457.9,353.9 1458.4,352.1 1458.9,346.2 1459.4,349.7 1459.9,350.4 1460.4,351.6 1460.9,345.1 1461.4,353.9 1462.0,352.2 1462.5,347.4 1463.0,348.6 1463.5,345.5 1464.0,353.7 1464.5,349.7 1465.0,349.7 1465.5,346.6 1466.0,349.1 1466.6,351.0 1467.1,349.2 1467.6,349.3 1468.1,348.8 1468.6,354.4 1469.1,349.0 1469.6,347.1 1470.1,349.1 1470.6,349.5 1471.2,350.1 1471.7,349.8 1472.2,355.4 1472.7,349.9 1473.2,351.2 1473.7,347.3 1474.2,354.6 1474.7,354.0 1475.3,346.4 1475.8,349.4 1476.3,352.3 1476.8,353.0 1477.3,353.9 1477.8,346.0 1478.3,347.6 1478.8,348.8 1479.3,351.0 1479.9,347.5 1480.4,350.7 1480.9,350.7 1481.4,351.2 1481.9,346.8 1482.4,350.0 1482.9,349.7 1483.4,348.6 1483.9,352.3 1484.5,348.8 1485.0,352.5 1485.5,348.0 1486.0,353.0 1486.5,352.8 1487.0,347.4 1487.5,356.0 1488.0,349.8 1488.5,347.0 1489.1,350.7 1489.6,350.3 1490.1,347.1 1490.6,349.1 1491.1,350.8 1491.6,348.5 1492.1,347.2 1492.6,352.3 1493.2,346.6 1493.7,349.4 1494.2,351.0 1494.7,350.3 1495.2,344.5 1495.7,347.8 1496.2,348.1 1496.7,347.9 1497.2,349.7 1497.8,349.5 1498.3,348.5 1498.8,348.8 1499.3,350.4 1499.8,342.3 1500.3,344.0 1500.8,352.8 1501.3,346.8 1501.8,341.3 1502.4,344.4 1502.9,346.9 1503.4,345.3 1503.9,350.4 1504.4,350.0 1504.9,348.1 1505.4,347.8 1505.9,349.0 1506.5,346.1 1507.0,346.9 1507.5,346.6 1508.0,350.0 1508.5,348.3 1509.0,345.5 1509.5,349.1 1510.0,349.5 1510.5,351.4 1511.1,347.2 1511.6,349.3 1512.1,353.0 1512.6,347.8 1513.1,347.7 1513.6,349.7 1514.1,347.5 1514.6,348.6 1515.1,347.5 1515.7,346.9 1516.2,350.6 1516.7,347.9 1517.2,346.5 1517.7,348.1 1518.2,348.5 1518.7,349.4 1519.2,350.8 1519.8,352.7 1520.3,346.2 1520.8,348.3 1521.3,345.0 1521.8,349.4 1522.3,350.1 1522.8,347.6 1523.3,347.0 1523.8,346.9 1524.4,345.8 1524.9,350.4 1525.4,353.2 1525.9,346.6 1526.4,352.6 1526.9,348.9 1527.4,346.1 1527.9,350.4 1528.4,350.8 1529.0,350.1 1529.5,348.7 1530.0,352.9 1530.5,348.7 1531.0,350.8 1531.5,350.8 1532.0,347.6 1532.5,345.6 1533.1,345.9 1533.6,348.8 1534.1,350.5 1534.6,346.0 1535.1,348.3 1535.6,353.3 1536.1,346.1 1536.6,351.1 1537.1,342.3 1537.7,351.9 1538.2,347.1 1538.7,351.0 1539.2,347.4 1539.7,342.6 1540.2,348.6 1540.7,351.4 1541.2,348.9 1541.7,351.0 1542.3,347.5 1542.8,351.4 1543.3,352.2 1543.8,350.9 1544.3,354.5 1544.8,351.9 1545.3,352.9 1545.8,352.3 1546.3,355.3 1546.9,349.9 1547.4,350.8 1547.9,351.0 1548.4,352.9 1548.9,352.2 1549.4,353.5 1549.9,352.4 1550.4,350.7 1551.0,351.8 1551.5,352.9 1552.0,347.1 1552.5,355.1 1553.0,351.0 1553.5,351.5 1554.0,352.9 1554.5,351.9 1555.0,349.3 1555.6,352.0 1556.1,355.6 1556.6,354.9 1557.1,355.4 1557.6,351.6 1558.1,352.4 1558.6,355.1 1559.1,356.0 1559.6,352.9 1560.2,350.7 1560.7,348.6 1561.2,355.9 1561.7,349.5 1562.2,353.7 1562.7,354.7 1563.2,359.8 1563.7,353.1 1564.3,352.5 1564.8,357.6 1565.3,353.8 1565.8,355.6 1566.3,354.2 1566.8,351.0 1567.3,348.1 1567.8,353.3 1568.3,351.1 1568.9,355.7 1569.4,345.7 1569.9,353.0 1570.4,351.0 1570.9,350.6 1571.4,356.1 1571.9,352.9 1572.4,352.1 1572.9,354.1 1573.5,345.5 1574.0,351.6 1574.5,351.0 1575.0,356.7 1575.5,353.1 1576.0,353.7 1576.5,354.8 1577.0,351.9 1577.6,352.0 1578.1,348.7 1578.6,353.3 1579.1,352.8 1579.6,351.3 1580.1,354.8 1580.6,348.3 1581.1,353.1 1581.6,349.1 1582.2,349.6 1582.7,351.6 1583.2,355.0 1583.7,349.5 1584.2,349.9 1584.7,349.4 1585.2,344.2 1585.7,353.2 1586.2,352.9 1586.8,356.5 1587.3,352.5 1587.8,357.4 1588.3,350.9 1588.8,349.4 1589.3,356.4 1589.8,348.9 1590.3,352.7 1590.8,350.9 1591.4,351.0 1591.9,352.0 1592.4,351.7 1592.9,350.5 1593.4,349.3 1593.9,350.6 1594.4,349.7 1594.9,350.0 1595.5,352.2 1596.0,351.6 1596.5,353.0 1597.0,351.5 1597.5,356.2 1598.0,350.4 1598.5,349.8 1599.0,354.2 1599.5,350.4 1600.1,352.2 1600.6,354.1 1601.1,351.8 1601.6,351.2 1602.1,354.1 1602.6,352.7 1603.1,350.8 1603.6,349.3 1604.1,351.1 1604.7,348.3 1605.2,350.0 1605.7,349.6 1606.2,352.6 1606.7,353.6 1607.2,350.5 1607.7,350.8 1608.2,348.9 1608.8,347.5 1609.3,348.8 1609.8,350.1 1610.3,349.0 1610.8,348.4 1611.3,345.4 1611.8,338.5 1612.3,344.7 1612.8,343.1 1613.4,339.3 1613.9,336.4 1614.4,333.9 1614.9,334.8 1615.4,326.5 1615.9,326.7 1616.4,322.4 1616.9,319.6 1617.4,315.2 1618.0,312.2 1618.5,307.8 1619.0,308.7 1619.5,303.1 1620.0,297.3 1620.5,294.2 1621.0,289.8 1621.5,290.7 1622.1,284.8 1622.6,282.6 1623.1,279.6 1623.6,279.0 1624.1,280.3 1624.6,279.3 1625.1,280.1 1625.6,282.8 1626.1,285.5 1626.7,287.0 1627.2,290.3 1627.7,293.7 1628.2,296.8 1628.7,305.6 1629.2,302.9 1629.7,309.3 1630.2,309.0 1630.7,314.2 1631.3,321.8 1631.8,325.6 1632.3,328.8 1632.8,330.5 1633.3,332.5 1633.8,335.5 1634.3,338.5 1634.8,344.5 1635.4,347.8 1635.9,347.6 1636.4,347.0 1636.9,347.2 1637.4,350.8 1637.9,350.4 1638.4,347.6 1638.9,355.4 1639.4,353.1 1640.0,352.9 1640.5,352.0 1641.0,352.1 1641.5,355.9 1642.0,351.9 1642.5,354.1 1643.0,355.3 1643.5,357.9 1644.0,355.2 1644.6,353.8 1645.1,352.9 1645.6,355.7 1646.1,356.0 1646.6,352.9 1647.1,355.1 1647.6,353.5 1648.1,350.2 1648.6,351.6 1649.2,355.5 1649.7,356.9 1650.2,355.2 1650.7,353.3 1651.2,352.2 1651.7,354.9 1652.2,354.4 1652.7,350.1 1653.3,355.1 1653.8,352.1 1654.3,355.1 1654.8,354.8 1655.3,355.2 1655.8,356.0 1656.3,355.2 1656.8,351.4 1657.3,351.5 1657.9,356.0 1658.4,354.8 1658.9,350.3 1659.4,349.4 1659.9,355.8 1660.4,358.8 1660.9,355.7 1661.4,353.4 1661.9,354.6 1662.5,348.0 1663.0,351.9 1663.5,356.3 1664.0,356.0 1664.5,349.5 1665.0,356.8 1665.5,355.4 1666.0,356.3 1666.6,353.8 1667.1,354.3 1667.6,352.0 1668.1,355.1 1668.6,356.4 1669.1,352.4 1669.6,355.3 1670.1,353.3 1670.6,356.8 1671.2,356.7 1671.7,349.4 1672.2,355.6 1672.7,356.9 1673.2,353.5 1673.7,354.2 1674.2,354.4 1674.7,352.3 1675.2,354.6 1675.8,358.2 1676.3,355.9 1676.8,349.2 1677.3,357.1 1677.8,357.6 1678.3,360.5 1678.8,356.6 1679.3,359.3 1679.9,358.1 1680.4,355.5 1680.9,353.2 1681.4,352.7 1681.9,355.1 1682.4,355.5 1682.9,350.5 1683.4,354.9 1683.9,355.2 1684.5,355.0 1685.0,353.1 1685.5,359.3 1686.0,356.1 1686.5,351.1 1687.0,352.5 1687.5,355.8 1688.0,355.1 1688.5,354.2 1689.1,353.8 1689.6,353.3 1690.1,352.7 1690.6,351.4 1691.1,354.9 1691.6,346.2 1692.1,351.9 1692.6,356.1 1693.1,351.6 1693.7,350.7 1694.2,357.4 1694.7,355.5 1695.2,352.8 1695.7,351.8 1696.2,352.5 1696.7,352.2"/>
<polyline stroke="#ff0000" points="152.0,393.7 152.5,410.0 153.0,392.0 153.5,383.3 154.0,403.5 154.6,401.2 155.1,395.1 155.6,400.8 156.1,399.2 156.6,396.1 157.1,403.8 157.6,398.5 158.1,399.1 158.6,397.7 159.2,404.1 159.7,402.2 160.2,405.9 160.7,401.3 161.2,405.3 161.7,401.3 162.2,390.8 162.7,407.6 163.3,408.9 163.8,410.0 164.3,404.2 164.8,422.2 165.3,419.5 165.8,403.4 166.3,403.6 166.8,405.3 167.3,416.6 167.9,414.0 168.4,418.9 168.9,417.8 169.4,416.1 169.9,416.9 170.4,415.5 170.9,420.7 171.4,412.2 171.9,416.0 172.5,419.6 173.0,427.2 173.5,416.1 174.0,435.6 174.5,418.2 175.0,425.6 175.5,420.8 176.0,428.4 176.6,414.5 177.1,428.6 177.6,428.7 178.1,418.3 178.6,425.9 179.1,431.2 179.6,426.7 180.1,431.4 180.6,438.1 181.2,429.2 181.7,427.3 182.2,425.7 182.7,432.6 183.2,429.4 183.7,430.0 184.2,430.9 184.7,434.9 185.2,427.8 185.8,426.4 186.3,422.9 186.8,439.8 187.3,435.4 187.8,442.4 188.3,436.3 188.8,433.6 189.3,439.7 189.9,437.8 190.4,433.2 190.9,435.5 191.4,447.9 191.9,442.2 192.4,443.1 192.9,440.6 193.4,439.4 193.9,447.1 194.5,443.3 195.0,441.0 195.5,444.4 196.0,441.6 196.5,447.0 197.0,451.8 197.5,443.7 198.0,454.4 198.5,445.7 199.1,450.0 199.6,446.2 200.1,449.5 200.6,451.3 201.1,449.8 201.6,449.2 202.1,437.0 202.6,449.5 203.2,446.5 203.7,439.5 204.2,455.8 204.7,458.3 205.2,457.5 205.7,465.7 206.2,456.7 206.7,453.6 207.2,464.1 207.8,451.6 208.3,460.8 208.8,452.6 209.3,458.7 209.8,448.8 210.3,461.7 210.8,457.4 211.3,454.1 211.8,466.0 212.4,462.3 212.9,459.5 213.4,456.3 213.9,459.7 214.4,459.5 214.9,463.7 215.4,464.3 215.9,458.2 216.4,459.1 217.0,459.4 217.5,456.2 218.0,459.8 218.5,462.3 219.0,466.1 219.5,469.3 220.0,460.6 220.5,467.1 221.1,463.3 221.6,474.8 222.1,466.1 222.6,469.1 223.1,463.4 223.6,464.5 224.1,469.5 224.6,467.5 225.1,471.2 225.7,463.5 226.2,473.7 226.7,467.5 227.2,479.4 227.7,471.3 228.2,477.8 228.7,467.6 229.2,476.0 229.7,470.9 230.3,473.2 230.8,476.0 231.3,475.0 231.8,478.1 232.3,480.7 232.8,480.9 233.3,478.3 233.8,473.3 234.4,476.3 234.9,479.5 235.4,471.8 235.9,484.6 236.4,480.9 236.9,481.2 237.4,486.6 237.9,485.7 238.4,484.1 239.0,479.2 239.5,485.1 240.0,485.5 240.5,480.5 241.0,489.1 241.5,487.1 242.0,476.8 242.5,486.0 243.0,480.4 243.6,490.9 244.1,489.8 244.6,481.9 245.1,483.2 245.6,487.7 246.1,486.5 246.6,494.3 247.1,491.3 247.7,487.2 248.2,491.2 248.7,480.3 249.2,490.6 249.7,493.3 250.2,489.1 250.7,487.1 251.2,492.9 251.7,499.1 252.3,491.9 252.8,486.6 253.3,497.8 253.8,483.9 254.3,494.3 254.8,490.0 255.3,496.7 255.8,489.5 256.3,499.0 256.9,494.9 257.4,486.6 257.9,485.9 258.4,493.2 258.9,500.3 259.4,495.7 259.9,495.7 260.4,494.7 260.9,499.2 261.5,498.0 262.0,483.3 262.5,492.9 263.0,502.4 263.5,503.5 264.0,492.6 264.5,508.1 265.0,501.8 265.6,497.0 266.1,491.4 266.6,502.5 267.1,502.5 267.6,497.9 268.1,493.2 268.6,505.9 269.1,499.0 269.6,499.8 270.2,514.1 270.7,511.5 271.2,506.8 271.7,491.0 272.2,506.2 272.7,494.2 273.2,504.6 273.7,501.3 274.2,499.4 274.8,498.5 275.3,507.7 275.8,506.2 276.3,506.9 276.8,510.1 277.3,503.3 277.8,502.0 278.3,500.1 278.9,506.5 279.4,511.4 279.9,508.0 280.4,511.6 280.9,504.3 281.4,507.6 281.9,506.7 282.4,505.0 282.9,518.4 283.5,514.5 284.0,508.1 284.5,508.4 285.0,511.7 285.5,506.2 286.0,514.4 286.5,507.5 287.0,511.7 287.5,509.2 288.1,511.9 288.6,508.6 289.1,507.9 289.6,510.8 290.1,512.3 290.6,514.3 291.1,516.1 291.6,522.5 292.2,519.9 292.7,515.7 293.2,520.1 293.7,514.6 294.2,523.8 294.7,520.4 295.2,512.8 295.7,521.9 296.2,522.5 296.8,508.3 297.3,516.6 297.8,518.1 298.3,512.4 298.8,516.3 299.3,517.1 299.8,523.5 300.3,522.9 300.8,534.8 301.4,520.7 301.9,527.5 302.4,523.3 302.9,533.9 303.4,518.9 303.9,516.1 304.4,521.1 304.9,527.8 305.5,531.5 306.0,527.8 306.5,527.8 307.0,522.6 307.5,532.8 308.0,532.4 308.5,525.0 309.0,527.4 309.5,523.8 310.1,534.3 310.6,530.3 311.1,528.6 311.6,531.1 312.1,531.6 312.6,528.4 313.1,525.4 313.6,525.6 314.1,524.1 314.7,533.5 315.2,541.1 315.7,525.4 316.2,533.3 316.7,534.8 317.2,529.4 317.7,534.7 318.2,529.7 318.7,539.5 319.3,532.5 319.8,535.7 320.3,538.5 320.8,534.3 321.3,529.1 321.8,534.6 322.3,540.3 322.8,537.2 323.4,538.8 323.9,533.9 324.4,539.2 324.9,542.0 325.4,539.5 325.9,547.5 326.4,539.3 326.9,536.3 327.4,534.3 328.0,545.9 328.5,541.4 329.0,546.1 329.5,544.1 330.0,549.2 330.5,527.4 331.0,541.4 331.5,544.2 332.0,547.6 332.6,538.3 333.1,549.4 333.6,548.6 334.1,547.8 334.6,543.2 335.1,545.4 335.6,539.8 336.1,544.7 336.7,542.2 337.2,545.1 337.7,542.9 338.2,546.3 338.7,550.1 339.2,540.1 339.7,549.3 340.2,537.6 340.7,537.1 341.3,545.6 341.8,546.2 342.3,548.2 342.8,539.8 343.3,546.4 343.8,547.3 344.3,552.1 344.8,546.7 345.3,549.4 345.9,543.5 346.4,546.9 346.9,546.0 347.4,550.8 347.9,544.1 348.4,544.9 348.9,550.7 349.4,555.8 350.0,550.3 350.5,550.1 351.0,547.6 351.5,553.6 352.0,551.5 352.5,556.5 353.0,551.0 353.5,546.0 354.0,547.7 354.6,546.1 355.1,545.2 355.6,555.6 356.1,553.9 356.6,560.6 357.1,558.1 357.6,552.2 358.1,547.6 358.6,553.3 359.2,551.7 359.7,549.2 360.2,544.8 360.7,553.1 361.2,554.4 361.7,543.1 362.2,556.0 362.7,556.6 363.2,552.5 363.8,555.2 364.3,553.9 364.8,551.9 365.3,554.2 365.8,561.3 366.3,550.4 366.8,557.4 367.3,557.5 367.9,554.2 368.4,555.6 368.9,552.1 369.4,554.6 369.9,558.3 370.4,559.9 370.9,555.3 371.4,571.4 371.9,557.2 372.5,560.3 373.0,559.1 373.5,558.8 374.0,565.9 374.5,559.0 375.0,566.6 375.5,566.1 376.0,557.7 376.5,566.3 377.1,559.9 377.6,573.7 378.1,561.5 378.6,559.6 379.1,556.0 379.6,558.7 380.1,561.9 380.6,560.5 381.2,559.9 381.7,562.3 382.2,564.5 382.7,571.4 383.2,559.1 383.7,564.0 384.2,562.7 384.7,560.8 385.2,556.2 385.8,563.8 386.3,570.5 386.8,567.2 387.3,566.1 387.8,571.0 388.3,569.9 388.8,568.2 389.3,570.9 389.8,566.4 390.4,572.5 390.9,561.0 391.4,568.9 391.9,566.0 392.4,577.2 392.9,571.8 393.4,583.8 393.9,569.4 394.5,575.7 395.0,570.9 395.5,573.9 396.0,576.5 396.5,570.3 397.0,573.3 397.5,574.7 398.0,574.8 398.5,577.0 399.1,578.9 399.6,578.5 400.1,576.5 400.6,574.4 401.1,571.6 401.6,573.4 402.1,574.5 402.6,579.6 403.1,575.8 403.7,572.6 404.2,580.2 404.7,574.9 405.2,575.3 405.7,577.7 406.2,580.8 406.7,569.7 407.2,565.6 407.8,580.5 408.3,578.6 408.8,576.9 409.3,578.5 409.8,586.3 410.3,579.3 410.8,584.1 411.3,584.6 411.8,580.0 412.4,583.7 412.9,580.4 413.4,580.0 413.9,578.2 414.4,586.3 414.9,581.5 415.4,581.1 415.9,579.1 416.4,590.8 417.0,586.8 417.5,583.6 418.0,581.7 418.5,578.6 419.0,586.0 419.5,586.2 420.0,579.7 420.5,590.0 421.0,588.7 421.6,582.2 422.1,584.0 422.6,584.7 423.1,587.2 423.6,586.2 424.1,580.6 424.6,593.0 425.1,588.7 425.7,592.6 426.2,592.8 426.7,587.3 427.2,589.7 427.7,591.5 428.2,591.8 428.7,588.4 429.2,586.8 429.7,589.6 430.3,586.6 430.8,587.7 431.3,582.2 431.8,590.7 432.3,586.6 432.8,588.6 433.3,590.8 433.8,592.5 434.3,598.8 434.9,592.5 435.4,578.1 435.9,592.6 436.4,590.0 436.9,594.2 437.4,590.3 437.9,607.5 438.4,591.8 439.0,591.7 439.5,587.5 440.0,592.4 440.5,595.3 441.0,600.4 441.5,595.0 442.0,595.2 442.5,608.4 443.0,599.4 443.6,603.9 444.1,600.4 444.6,598.5 445.1,604.1 445.6,605.2 446.1,598.0 446.6,600.8 447.1,594.3 447.6,599.7 448.2,598.1 448.7,601.0 449.2,600.4 449.7,602.0 450.2,602.7 450.7,605.3 451.2,604.7 451.7,602.2 452.3,599.9 452.8,609.7 453.3,610.7 453.8,604.2 454.3,608.4 454.8,601.1 455.3,601.4 455.8,606.5 456.3,613.3 456.9,604.5 457.4,605.7 457.9,615.0 458.4,602.6 458.9,612.3 459.4,612.1 459.9,610.0 460.4,611.8 460.9,621.0 461.5,607.9 462.0,611.2 462.5,602.6 463.0,610.6 463.5,608.6 464.0,619.5 464.5,615.0 465.0,608.3 465.5,612.4 466.1,616.8 466.6,617.1 467.1,610.9 467.6,616.1 468.1,617.8 468.6,618.6 469.1,619.0 469.6,611.5 470.2,624.9 470.7,619.5 471.2,629.8 471.7,629.6 472.2,619.3 472.7,615.9 473.2,623.6 473.7,620.3 474.2,619.8 474.8,618.1 475.3,628.0 475.8,620.9 476.3,618.0 476.8,621.7 477.3,619.6 477.8,624.5 478.3,622.9 478.8,621.1 479.4,627.2 479.9,623.3 480.4,628.4 480.9,630.6 481.4,625.4 481.9,624.8 482.4,628.1 482.9,630.8 483.5,628.1 484.0,629.0 484.5,628.8 485.0,630.3 485.5,631.8 486.0,627.6 486.5,628.8 487.0,630.9 487.5,628.9 488.1,632.0 488.6,633.7 489.1,632.2 489.6,630.5 490.1,630.3 490.6,639.1 491.1,636.5 491.6,630.1 492.1,631.4 492.7,640.8 493.2,639.9 493.7,635.6 494.2,639.3 494.7,630.9 495.2,636.1 495.7,638.9 496.2,630.7 496.8,634.5 497.3,626.1 497.8,641.5 498.3,636.1 498.8,639.4 499.3,644.0 499.8,637.8 500.3,635.0 500.8,639.5 501.4,638.8 501.9,644.6 502.4,641.2 502.9,638.4 503.4,649.1 503.9,640.0 504.4,643.5 504.9,644.5 505.4,645.2 506.0,643.5 506.5,645.2 507.0,643.4 507.5,639.4 508.0,643.6 508.5,644.0 509.0,644.3 509.5,645.7 510.1,643.6 510.6,650.1 511.1,651.2 511.6,639.6 512.1,646.9 512.6,644.9 513.1,639.3 513.6,649.1 514.1,646.2 514.7,647.3 515.2,646.8 515.7,659.3 516.2,653.3 516.7,650.6 517.2,652.2 517.7,650.0 518.2,651.1 518.7,648.6 519.3,651.3 519.8,649.3 520.3,652.9 520.8,654.6 521.3,653.3 521.8,656.3 522.3,645.4 522.8,646.7 523.3,653.5 523.9,643.2 524.4,652.7 524.9,650.2 525.4,654.8 525.9,654.1 526.4,653.3 526.9,654.7 527.4,654.0 528.0,648.9 528.5,659.6 529.0,655.7 529.5,654.0 530.0,658.1 530.5,655.5 531.0,651.2 531.5,660.7 532.0,653.3 532.6,658.0 533.1,659.3 533.6,663.3 534.1,663.1 534.6,660.3 535.1,657.8 535.6,659.1 536.1,663.9 536.6,666.3 537.2,662.8 537.7,671.4 538.2,664.8 538.7,661.0 539.2,661.1 539.7,661.8 540.2,664.7 540.7,664.0 541.3,666.4 541.8,667.6 542.3,665.6 542.8,657.5 543.3,659.7 543.8,665.4 544.3,665.0 544.8,671.8 545.3,665.7 545.9,665.6 546.4,669.1 546.9,669.7 547.4,666.3 547.9,668.6 548.4,664.3 548.9,665.2 549.4,671.8 549.9,664.5 550.5,671.5 551.0,671.1 551.5,671.7 552.0,672.4 552.5,671.7 553.0,664.3 553.5,667.9 554.0,669.3 554.6,674.0 555.1,668.5 555.6,670.0 556.1,671.3 556.6,676.3 557.1,668.9 557.6,669.4 558.1,675.3 558.6,667.9 559.2,675.1 559.7,673.3 560.2,670.4 560.7,674.0 561.2,672.7 561.7,676.3 562.2,677.1 562.7,680.5 563.2,676.7 563.8,677.3 564.3,675.8 564.8,677.6 565.3,680.9 565.8,673.0 566.3,680.4 566.8,677.5 567.3,679.5 567.8,680.5 568.4,682.2 568.9,680.9 569.4,679.5 569.9,681.7 570.4,681.2 570.9,680.9 571.4,682.3 571.9,684.5 572.5,682.8 573.0,683.2 573.5,679.6 574.0,683.0 574.5,678.7 575.0,685.9 575.5,681.6 576.0,687.8 576.5,691.6 577.1,683.6 577.6,688.3 578.1,686.0 578.6,683.6 579.1,683.0 579.6,686.9 580.1,694.9 580.6,686.6 581.1,681.9 581.7,683.3 582.2,685.6 582.7,689.9 583.2,687.2 583.7,687.5 584.2,690.0 584.7,686.4 585.2,686.9 585.8,686.8 586.3,682.8 586.8,688.8 587.3,688.8 587.8,690.4 588.3,684.9 588.8,686.1 589.3,690.8 589.8,689.3 590.4,692.2 590.9,686.6 591.4,689.5 591.9,687.4 592.4,690.1 592.9,688.2 593.4,691.0 593.9,692.5 594.4,691.6 595.0,685.4 595.5,692.6 596.0,691.5 596.5,687.8 597.0,688.4 597.5,690.8 598.0,692.4 598.5,690.0 599.1,687.1 599.6,692.2 600.1,692.0 600.6,698.0 601.1,688.6 601.6,698.5 602.1,696.7 602.6,693.1 603.1,696.7 603.7,692.9 604.2,695.3 604.7,691.1 605.2,693.3 605.7,690.7 606.2,689.5 606.7,692.9 607.2,692.1 607.7,695.4 608.3,697.3 608.8,693.8 609.3,694.5 609.8,695.0 610.3,690.5 610.8,695.7 611.3,695.2 611.8,695.3 612.4,692.9 612.9,690.9 613.4,695.5 613.9,697.1 614.4,699.9 614.9,699.6 615.4,700.6 615.9,698.1 616.4,700.3 617.0,697.1 617.5,699.4 618.0,700.4 618.5,704.9 619.0,699.1 619.5,695.6 620.0,702.3 620.5,697.2 621.0,699.3 621.6,698.9 622.1,697.6 622.6,703.3 623.1,701.7 623.6,699.0 624.1,700.9 624.6,699.9 625.1,702.7 625.6,700.5 626.2,699.8 626.7,700.3 627.2,701.0 627.7,703.0 628.2,700.3 628.7,702.5 629.2,704.0 629.7,708.8 630.3,705.4 630.8,696.5 631.3,702.6 631.8,703.1 632.3,705.0 632.8,708.2 633.3,706.5 633.8,699.4 634.3,705.7 634.9,705.3 635.4,706.0 635.9,708.3 636.4,702.5 636.9,707.7 637.4,701.2 637.9,705.3 638.4,706.1 638.9,710.6 639.5,703.6 640.0,701.3 640.5,706.9 641.0,703.8 641.5,709.0 642.0,703.7 642.5,703.3 643.0,708.4 643.6,705.6 644.1,707.8 644.6,702.1 645.1,709.4 645.6,704.1 646.1,707.5 646.6,703.2 647.1,701.9 647.6,705.0 648.2,706.1 648.7,709.4 649.2,713.6 649.7,707.4 650.2,707.3 650.7,713.1 651.2,703.9 651.7,708.8 652.2,705.5 652.8,706.5 653.3,704.6 653.8,708.7 654.3,703.0 654.8,702.8 655.3,705.5 655.8,703.3 656.3,707.7 656.9,708.2 657.4,704.3 657.9,708.0 658.4,704.6 658.9,713.3 659.4,706.2 659.9,710.6 660.4,706.2 660.9,704.1 661.5,704.1 662.0,709.1 662.5,702.4 663.0,705.2 663.5,705.5 664.0,700.6 664.5,705.3 665.0,708.8 665.5,707.0 666.1,704.4 666.6,708.1 667.1,707.7 667.6,711.3 668.1,704.8 668.6,705.7 669.1,706.7 669.6,706.3 670.1,706.9 670.7,706.5 671.2,705.1 671.7,703.0 672.2,705.5 672.7,703.6 673.2,704.4 673.7,705.6 674.2,708.1 674.8,708.9 675.3,704.5 675.8,707.7 676.3,708.9 676.8,706.9 677.3,703.2 677.8,702.0 678.3,708.9 678.8,709.2 679.4,707.8 679.9,704.7 680.4,710.6 680.9,710.0 681.4,707.1 681.9,706.7 682.4,702.7 682.9,709.1 683.4,703.6 684.0,708.9 684.5,709.1 685.0,707.6 685.5,711.1 686.0,706.7 686.5,708.9 687.0,709.4 687.5,708.1 688.1,706.6 688.6,710.5 689.1,708.6 689.6,701.5 690.1,707.3 690.6,708.0 691.1,713.0 691.6,708.0 692.1,707.2 692.7,705.3 693.2,705.0 693.7,703.4 694.2,708.4 694.7,708.0 695.2,705.5 695.7,704.5 696.2,707.2 696.7,706.8 697.3,704.9 697.8,708.8 698.3,708.4 698.8,708.0 699.3,709.9 699.8,706.6 700.3,711.4 700.8,705.9 701.4,709.4 701.9,709.7 702.4,707.7 702.9,709.1 703.4,705.4 703.9,704.9 704.4,708.0 704.9,706.8 705.4,709.9 706.0,708.7 706.5,710.1 707.0,709.5 707.5,709.3 708.0,709.0 708.5,708.0 709.0,707.9 709.5,713.7 710.0,705.0 710.6,708.7 711.1,711.5 711.6,710.2 712.1,712.5 712.6,710.6 713.1,706.4 713.6,708.6 714.1,706.2 714.7,711.8 715.2,712.9 715.7,708.6 716.2,710.9 716.7,708.8 717.2,706.4 717.7,708.8 718.2,706.2 718.7,708.6 719.3,710.4 719.8,711.7 720.3,713.0 720.8,709.3 721.3,710.7 721.8,711.2 722.3,711.5 722.8,703.8 723.3,718.3 723.9,712.2 724.4,707.9 724.9,711.1 725.4,712.5 725.9,706.2 726.4,710.2 726.9,711.3 727.4,710.8 727.9,707.3 728.5,711.7 729.0,709.6 729.5,712.8 730.0,712.0 730.5,709.8 731.0,711.5 731.5,709.6 732.0,709.6 732.6,707.6 733.1,710.7 733.6,713.2 734.1,711.7 734.6,711.4 735.1,710.0 735.6,710.3 736.1,713.3 736.6,708.2 737.2,716.4 737.7,711.6 738.2,716.7 738.7,714.5 739.2,710.9 739.7,713.6 740.2,712.5 740.7,713.0 741.2,713.8 741.8,710.8 742.3,710.7 742.8,711.2 743.3,709.1 743.8,711.7 744.3,712.8 744.8,712.9 745.3,712.8 745.9,711.5 746.4,714.3 746.9,707.8 747.4,711.7 747.9,711.9 748.4,714.7 748.9,714.2 749.4,714.6 749.9,712.8 750.5,715.0 751.0,710.6 751.5,713.1 752.0,708.2 752.5,717.0 753.0,716.7 753.5,711.8 754.0,711.2 754.5,708.4 755.1,709.8 755.6,713.6 756.1,713.0 756.6,710.1 757.1,712.3 757.6,712.0 758.1,714.7 758.6,715.3 759.2,713.2 759.7,714.0 760.2,713.8 760.7,709.1 761.2,714.3 761.7,713.8 762.2,715.7 762.7,709.8 763.2,715.8 763.8,712.7 764.3,714.8 764.8,717.0 765.3,710.9 765.8,722.3 766.3,716.7 766.8,711.9 767.3,712.3 767.8,715.9 768.4,714.2 768.9,716.5 769.4,715.4 769.9,714.8 770.4,717.1 770.9,720.0 771.4,714.8 771.9,718.5 772.4,717.8 773.0,715.5 773.5,716.4 774.0,713.3 774.5,714.1 775.0,716.2 775.5,715.6 776.0,718.7 776.5,712.9 777.1,715.2 777.6,714.5 778.1,715.7 778.6,718.8 779.1,713.5 779.6,718.2 780.1,715.0 780.6,715.7 781.1,718.8 781.7,715.9 782.2,718.2 782.7,717.0 783.2,716.4 783.7,716.1 784.2,713.0 784.7,715.4 785.2,717.5 785.7,717.7 786.3,713.9 786.8,724.5 787.3,718.8 787.8,714.6 788.3,715.2 788.8,718.8 789.3,713.8 789.8,716.2 790.4,717.8 790.9,717.7 791.4,725.7 791.9,719.1 792.4,716.4 792.9,717.2 793.4,713.4 793.9,715.3 794.4,717.5 795.0,718.9 795.5,717.2 796.0,721.6 796.5,719.0 797.0,720.7 797.5,713.1 798.0,721.8 798.5,721.8 799.0,717.5 799.6,722.3 800.1,720.0 800.6,721.6 801.1,723.7 801.6,719.9 802.1,717.4 802.6,719.8 803.1,717.0 803.7,718.1 804.2,718.3 804.7,726.2 805.2,722.7 805.7,722.0 806.2,718.1 806.7,722.8 807.2,716.4 807.7,718.8 808.3,720.0 808.8,723.1 809.3,722.1 809.8,721.5 810.3,723.5 810.8,722.2 811.3,723.7 811.8,718.8 812.3,716.8 812.9,719.8 813.4,722.6 813.9,721.4 814.4,722.8 814.9,722.5 815.4,722.1 815.9,722.8 816.4,719.3 817.0,723.5 817.5,718.8 818.0,720.8 818.5,717.9 819.0,722.3 819.5,717.7 820.0,724.4 820.5,718.2 821.0,721.9 821.6,721.0 822.1,719.4 822.6,724.3 823.1,720.5 823.6,724.8 824.1,719.2 824.6,719.8 825.1,717.1 825.6,722.9 826.2,723.8 826.7,722.2 827.2,721.4 827.7,719.7 828.2,727.2 828.7,723.6 829.2,717.7 829.7,721.2 830.2,716.1 830.8,725.6 831.3,726.5 831.8,725.4 832.3,722.0 832.8,720.8 833.3,719.0 833.8,723.5 834.3,720.6 834.9,721.5 835.4,720.9 835.9,721.7 836.4,724.5 836.9,726.3 837.4,722.9 837.9,722.6 838.4,720.1 838.9,719.8 839.5,720.3 840.0,724.7 840.5,723.3 841.0,725.0 841.5,723.8 842.0,721.9 842.5,720.1 843.0,722.1 843.5,719.7 844.1,727.6 844.6,723.7 845.1,722.3 845.6,727.7 846.1,722.3 846.6,724.5 847.1,722.9 847.6,724.1 848.2,722.5 848.7,717.4 849.2,726.6 849.7,720.6 850.2,718.4 850.7,726.6 851.2,723.9 851.7,725.6 852.2,723.0 852.8,727.3 853.3,728.1 853.8,721.4 854.3,725.7 854.8,722.9 855.3,720.7 855.8,723.9 856.3,732.9 856.8,721.7 857.4,722.0 857.9,727.8 858.4,725.2 858.9,726.2 859.4,722.8 859.9,724.0 860.4,725.9 860.9,726.2 861.5,726.2 862.0,729.6 862.5,726.5 863.0,722.8 863.5,724.4 864.0,726.4 864.5,729.5 865.0,725.2 865.5,726.0 866.1,726.9 866.6,725.5 867.1,725.4 867.6,726.8 868.1,729.7 868.6,728.7 869.1,727.1 869.6,728.8 870.1,725.0 870.7,730.4 871.2,729.9 871.7,729.0 872.2,724.8 872.7,733.2 873.2,722.1 873.7,726.5 874.2,726.8 874.7,730.6 875.3,725.7 875.8,729.7 876.3,729.0 876.8,728.8 877.3,731.5 877.8,732.8 878.3,730.6 878.8,729.2 879.4,724.8 879.9,733.4 880.4,729.4 880.9,726.0 881.4,730.7 881.9,733.7 882.4,730.2 882.9,728.0 883.4,735.9 884.0,732.2 884.5,731.7 885.0,733.4 885.5,726.3 886.0,731.1 886.5,731.0 887.0,736.6 887.5,730.3 888.0,730.4 888.6,728.7 889.1,730.0 889.6,731.5 890.1,732.7 890.6,726.9 891.1,736.9 891.6,733.5 892.1,734.0 892.7,735.7 893.2,734.2 893.7,731.7 894.2,729.4 894.7,733.9 895.2,731.3 895.7,736.2 896.2,731.6 896.7,728.4 897.3,733.7 897.8,736.1 898.3,733.3 898.8,734.3 899.3,734.3 899.8,738.0 900.3,734.9 900.8,734.2 901.3,733.0 901.9,730.8 902.4,737.8 902.9,737.3 903.4,732.6 903.9,736.3 904.4,735.7 904.9,734.2 905.4,734.5 906.0,737.0 906.5,732.7 907.0,734.3 907.5,735.4 908.0,735.7 908.5,735.3 909.0,736.4 909.5,737.2 910.0,734.1 910.6,736.4 911.1,735.1 911.6,739.8 912.1,733.3 912.6,736.1 913.1,738.3 913.6,736.2 914.1,736.2 914.6,735.8 915.2,737.8 915.7,734.6 916.2,737.2 916.7,737.2 917.2,734.2 917.7,738.3 918.2,736.7 918.7,738.6 919.3,739.9 919.8,738.8 920.3,735.5 920.8,739.0 921.3,734.8 921.8,736.8 922.3,742.4 922.8,738.7 923.3,742.3 923.9,738.5 924.4,739.0 924.9,736.6 925.4,741.4 925.9,738.9 926.4,740.9 926.9,740.5 927.4,740.9 927.9,740.5 928.5,739.8 929.0,740.0 929.5,738.5 930.0,735.4 930.5,741.4 931.0,745.1 931.5,742.9 932.0,745.9 932.5,741.8 933.1,738.7 933.6,738.8 934.1,742.7 934.6,741.9 935.1,740.9 935.6,743.1 936.1,734.5 936.6,742.8 937.2,741.1 937.7,742.2 938.2,744.6 938.7,741.7 939.2,745.2 939.7,745.2 940.2,740.6 940.7,747.6 941.2,739.8 941.8,742.4 942.3,744.3 942.8,737.7 943.3,745.1 943.8,745.3 944.3,742.6 944.8,743.5 945.3,743.4 945.8,742.4 946.4,745.3 946.9,742.1 947.4,742.9 947.9,743.8 948.4,744.9 948.9,745.5 949.4,739.8 949.9,738.6 950.5,742.8 951.0,743.0 951.5,740.8 952.0,743.9 952.5,744.6 953.0,744.1 953.5,747.0 954.0,741.0 954.5,743.4 955.1,747.7 955.6,744.9 956.1,740.9 956.6,743.9 957.1,746.1 957.6,748.1 958.1,745.0 958.6,746.1 959.1,741.1 959.7,743.0 960.2,746.3 960.7,741.5 961.2,743.5 961.7,739.5 962.2,747.0 962.7,743.4 963.2,745.0 963.8,740.4 964.3,740.9 964.8,747.9 965.3,743.1 965.8,742.7 966.3,745.0 966.8,745.2 967.3,739.6 967.8,741.8 968.4,744.1 968.9,744.0 969.4,744.8 969.9,743.1 970.4,743.5 970.9,744.6 971.4,742.6 971.9,742.3 972.4,743.0 973.0,744.2 973.5,743.9 974.0,743.2 974.5,743.7 975.0,744.2 975.5,745.1 976.0,745.2 976.5,741.5 977.0,746.6 977.6,740.9 978.1,745.8 978.6,743.0 979.1,745.9 979.6,747.1 980.1,740.6 980.6,746.1 981.1,745.5 981.7,743.9 982.2,745.8 982.7,743.9 983.2,745.3 983.7,742.8 984.2,746.9 984.7,746.5 985.2,746.9 985.7,743.9 986.3,749.4 986.8,749.8 987.3,745.3 987.8,744.6 988.3,744.7 988.8,747.1 989.3,747.9 989.8,744.1 990.3,741.3 990.9,746.8 991.4,745.8 991.9,746.3 992.4,747.1 992.9,743.6 993.4,746.2 993.9,745.5 994.4,747.0 995.0,748.9 995.5,746.3 996.0,744.4 996.5,749.1 997.0,748.0 997.5,746.0 998.0,742.6 998.5,744.7 999.0,746.9 999.6,747.8 1000.1,745.6 1000.6,747.7 1001.1,745.4 1001.6,745.9 1002.1,748.0 1002.6,746.4 1003.1,747.3 1003.6,748.9 1004.2,749.5 1004.7,745.9 1005.2,746.7 1005.7,744.4 1006.2,744.5 1006.7,742.6 1007.2,746.3 1007.7,743.5 1008.3,748.6 1008.8,745.8 1009.3,746.9 1009.8,748.5 1010.3,748.5 1010.8,747.6 1011.3,743.6 1011.8,749.1 1012.3,746.6 1012.9,745.0 1013.4,743.3 1013.9,750.9 1014.4,748.4 1014.9,748.4 1015.4,749.5 1015.9,748.1 1016.4,745.2 1016.9,749.8 1017.5,750.5 1018.0,749.6 1018.5,751.8 1019.0,752.6 1019.5,747.0 1020.0,747.8 1020.5,750.6 1021.0,749.2 1021.6,749.3 1022.1,750.9 1022.6,750.5 1023.1,748.1 1023.6,749.3 1024.1,747.6 1024.6,748.8 1025.1,746.9 1025.6,745.2 1026.2,748.3 1026.7,748.1 1027.2,751.3 1027.7,752.7 1028.2,749.5 1028.7,750.5 1029.2,748.2 1029.7,742.7 1030.2,748.9 1030.8,748.8 1031.3,750.0 1031.8,749.6 1032.3,752.8 1032.8,744.4 1033.3,745.9 1033.8,749.6 1034.3,748.0 1034.8,749.7 1035.4,751.6 1035.9,747.9 1036.4,749.1 1036.9,750.3 1037.4,747.3 1037.9,749.7 1038.4,750.3 1038.9,750.9 1039.5,754.5 1040.0,750.3 1040.5,750.0 1041.0,746.2 1041.5,743.5 1042.0,747.1 1042.5,752.0 1043.0,749.3 1043.5,744.4 1044.1,748.2 1044.6,749.8 1045.1,745.1 1045.6,750.2 1046.1,746.6 1046.6,751.1 1047.1,749.0 1047.6,755.4 1048.1,746.1 1048.7,749.5 1049.2,745.8 1049.7,751.3 1050.2,749.1 1050.7,750.8 1051.2,749.0 1051.7,746.4 1052.2,747.4 1052.8,746.2 1053.3,746.6 1053.8,749.0 1054.3,751.0 1054.8,750.5 1055.3,749.8 1055.8,747.5 1056.3,749.7 1056.8,746.9 1057.4,749.1 1057.9,750.4 1058.4,748.2 1058.9,747.6 1059.4,747.7 1059.9,749.8 1060.4,747.9 1060.9,745.5 1061.4,747.6 1062.0,746.2 1062.5,751.6 1063.0,748.5 1063.5,745.3 1064.0,749.0 1064.5,749.9 1065.0,749.2 1065.5,747.6 1066.1,748.7 1066.6,748.9 1067.1,750.4 1067.6,749.1 1068.1,753.0 1068.6,747.8 1069.1,751.5 1069.6,748.3 1070.1,744.6 1070.7,745.7 1071.2,744.4 1071.7,744.6 1072.2,750.7 1072.7,746.7 1073.2,749.4 1073.7,746.2 1074.2,748.1 1074.7,745.8 1075.3,749.9 1075.8,747.5 1076.3,747.1 1076.8,747.7 1077.3,752.6 1077.8,748.9 1078.3,749.7 1078.8,745.3 1079.3,746.5 1079.9,748.5 1080.4,744.0 1080.9,750.7 1081.4,748.5 1081.9,747.9 1082.4,747.5 1082.9,747.4 1083.4,746.8 1084.0,750.8 1084.5,749.3 1085.0,750.5 1085.5,747.3 1086.0,746.0 1086.5,750.8 1087.0,745.3 1087.5,746.6 1088.0,749.4 1088.6,741.6 1089.1,745.1 1089.6,747.3 1090.1,747.9 1090.6,747.6 1091.1,754.0 1091.6,749.3 1092.1,746.8 1092.6,747.4 1093.2,743.1 1093.7,747.7 1094.2,743.8 1094.7,749.4 1095.2,748.9 1095.7,746.8 1096.2,748.2 1096.7,748.1 1097.3,747.6 1097.8,748.7 1098.3,747.6 1098.8,746.9 1099.3,746.2 1099.8,751.4 1100.3,748.3 1100.8,747.8 1101.3,749.4 1101.9,747.1 1102.4,747.1 1102.9,749.3 1103.4,750.1 1103.9,749.3 1104.4,744.8 1104.9,748.0 1105.4,747.8 1105.9,748.8 1106.5,746.0 1107.0,745.7 1107.5,740.5 1108.0,746.0 1108.5,745.6 1109.0,747.7 1109.5,749.8 1110.0,748.2 1110.6,750.2 1111.1,745.8 1111.6,749.4 1112.1,754.4 1112.6,746.0 1113.1,747.0 1113.6,746.1 1114.1,747.4 1114.6,746.3 1115.2,750.5 1115.7,747.0 1116.2,744.8 1116.7,747.3 1117.2,748.4 1117.7,746.9 1118.2,749.3 1118.7,745.6 1119.2,745.6 1119.8,742.6 1120.3,747.3 1120.8,748.4 1121.3,748.3 1121.8,748.4 1122.3,747.2 1122.8,746.7 1123.3,749.3 1123.9,745.9 1124.4,747.1 1124.9,748.3 1125.4,746.0 1125.9,743.5 1126.4,747.7 1126.9,748.9 1127.4,747.1 1127.9,743.0 1128.5,747.8 1129.0,750.6 1129.5,743.1 1130.0,740.6 1130.5,745.8 1131.0,746.4 1131.5,747.8 1132.0,747.9 1132.5,746.3 1133.1,747.2 1133.6,746.7 1134.1,746.2 1134.6,745.7 1135.1,745.5 1135.6,747.3 1136.1,746.6 1136.6,744.8 1137.1,747.9 1137.7,744.0 1138.2,745.0 1138.7,745.7 1139.2,741.3 1139.7,744.5 1140.2,747.1 1140.7,747.0 1141.2,742.6 1141.8,743.4 1142.3,742.8 1142.8,744.5 1143.3,744.8 1143.8,741.5 1144.3,745.6 1144.8,745.0 1145.3,744.6 1145.8,743.3 1146.4,744.3 1146.9,740.8 1147.4,745.1 1147.9,745.0 1148.4,744.2 1148.9,741.9 1149.4,747.1 1149.9,746.8 1150.4,740.4 1151.0,745.3 1151.5,744.7 1152.0,738.9 1152.5,745.5 1153.0,745.8 1153.5,745.9 1154.0,744.7 1154.5,743.0 1155.1,743.3 1155.6,745.5 1156.1,746.9 1156.6,743.4 1157.1,743.8 1157.6,745.9 1158.1,739.8 1158.6,745.4 1159.1,743.9 1159.7,739.7 1160.2,746.1 1160.7,742.4 1161.2,746.1 1161.7,747.4 1162.2,741.7 1162.7,741.8 1163.2,744.4 1163.7,740.7 1164.3,746.0 1164.8,744.8 1165.3,746.5 1165.8,740.5 1166.3,744.9 1166.8,745.4 1167.3,740.6 1167.8,746.3 1168.4,741.5 1168.9,744.8 1169.4,741.6 1169.9,746.1 1170.4,748.1 1170.9,744.6 1171.4,744.5 1171.9,747.2 1172.4,743.5 1173.0,744.6 1173.5,746.2 1174.0,745.4 1174.5,747.8 1175.0,747.1 1175.5,748.6 1176.0,744.5 1176.5,746.9 1177.0,742.8 1177.6,746.5 1178.1,748.3 1178.6,749.6 1179.1,741.9 1179.6,744.2 1180.1,746.1 1180.6,742.7 1181.1,745.8 1181.6,745.8 1182.2,743.6 1182.7,743.4 1183.2,742.6 1183.7,745.3 1184.2,747.3 1184.7,745.2 1185.2,750.5 1185.7,741.3 1186.3,743.2 1186.8,745.9 1187.3,742.0 1187.8,745.2 1188.3,746.1 1188.8,744.8 1189.3,743.9 1189.8,746.3 1190.3,745.2 1190.9,745.8 1191.4,745.4 1191.9,742.8 1192.4,741.8 1192.9,743.3 1193.4,744.5 1193.9,743.7 1194.4,746.1 1194.9,744.6 1195.5,746.1 1196.0,744.3 1196.5,742.4 1197.0,745.8 1197.5,738.0 1198.0,742.1 1198.5,743.0 1199.0,749.9 1199.6,736.5 1200.1,746.2 1200.6,743.9 1201.1,743.6 1201.6,743.0 1202.1,742.6 1202.6,736.7 1203.1,742.6 1203.6,742.9 1204.2,745.3 1204.7,744.3 1205.2,743.1 1205.7,742.8 1206.2,740.5 1206.7,745.7 1207.2,741.1 1207.7,738.1 1208.2,745.6 1208.8,744.9 1209.3,744.0 1209.8,742.1 1210.3,745.8 1210.8,740.8 1211.3,738.4 1211.8,743.5 1212.3,744.8 1212.9,744.4 1213.4,747.6 1213.9,744.8 1214.4,742.5 1214.9,742.5 1215.4,744.9 1215.9,742.8 1216.4,742.6 1216.9,739.0 1217.5,742.1 1218.0,739.9 1218.5,743.3 1219.0,743.0 1219.5,744.3 1220.0,746.6 1220.5,742.3 1221.0,745.8 1221.5,740.1 1222.1,742.9 1222.6,744.6 1223.1,746.8 1223.6,740.1 1224.1,741.9 1224.6,742.8 1225.1,742.2 1225.6,740.3 1226.2,738.8 1226.7,739.6 1227.2,742.1 1227.7,739.3 1228.2,746.2 1228.7,744.9 1229.2,738.0 1229.7,741.1 1230.2,745.1 1230.8,745.3 1231.3,744.6 1231.8,738.9 1232.3,741.3 1232.8,744.9 1233.3,742.2 1233.8,741.0 1234.3,743.1 1234.8,744.1 1235.4,742.2 1235.9,742.4 1236.4,744.2 1236.9,740.6 1237.4,739.8 1237.9,743.5 1238.4,739.1 1238.9,742.8 1239.4,740.1 1240.0,743.5 1240.5,749.1 1241.0,744.1 1241.5,742.2 1242.0,740.9 1242.5,739.6 1243.0,741.2 1243.5,739.5 1244.1,738.8 1244.6,743.8 1245.1,742.7 1245.6,744.1 1246.1,738.4 1246.6,737.0 1247.1,737.8 1247.6,742.7 1248.1,743.0 1248.7,737.1 1249.2,743.5 1249.7,740.2 1250.2,738.5 1250.7,741.0 1251.2,742.4 1251.7,740.6 1252.2,740.7 1252.7,739.2 1253.3,737.9 1253.8,740.2 1254.3,737.4 1254.8,742.4 1255.3,734.8 1255.8,744.0 1256.3,737.6 1256.8,744.2 1257.4,733.1 1257.9,739.1 1258.4,741.8 1258.9,743.1 1259.4,741.0 1259.9,740.3 1260.4,745.6 1260.9,742.3 1261.4,738.5 1262.0,740.6 1262.5,744.9 1263.0,741.9 1263.5,743.0 1264.0,745.7 1264.5,739.9 1265.0,742.1 1265.5,739.8 1266.0,741.3 1266.6,742.5 1267.1,738.3 1267.6,741.6 1268.1,741.6 1268.6,743.6 1269.1,740.0 1269.6,738.5 1270.1,742.2 1270.7,738.9 1271.2,741.8 1271.7,742.6 1272.2,739.4 1272.7,741.1 1273.2,739.1 1273.7,735.1 1274.2,738.2 1274.7,736.8 1275.3,741.5 1275.8,739.1 1276.3,741.1 1276.8,735.6 1277.3,743.8 1277.8,740.7 1278.3,740.6 1278.8,742.6 1279.3,745.1 1279.9,741.3 1280.4,742.3 1280.9,741.1 1281.4,740.0 1281.9,738.1 1282.4,741.4 1282.9,741.0 1283.4,741.0 1283.9,746.0 1284.5,740.9 1285.0,742.4 1285.5,740.9 1286.0,744.3 1286.5,741.0 1287.0,745.8 1287.5,741.1 1288.0,743.4 1288.6,744.0 1289.1,741.2 1289.6,743.6 1290.1,741.9 1290.6,740.1 1291.1,740.3 1291.6,742.5 1292.1,745.7 1292.6,740.7 1293.2,743.0 1293.7,740.0 1294.2,749.3 1294.7,739.0 1295.2,740.1 1295.7,741.9 1296.2,740.2 1296.7,741.3 1297.2,744.2 1297.8,741.7 1298.3,740.4 1298.8,739.2 1299.3,740.8 1299.8,744.6 1300.3,741.8 1300.8,741.7 1301.3,743.7 1301.9,743.9 1302.4,744.3 1302.9,741.3 1303.4,740.1 1303.9,738.4 1304.4,740.6 1304.9,741.3 1305.4,743.8 1305.9,742.9 1306.5,740.9 1307.0,744.2 1307.5,739.4 1308.0,739.9 1308.5,739.7 1309.0,739.9 1309.5,741.7 1310.0,740.4 1310.5,740.6 1311.1,745.3 1311.6,739.1 1312.1,740.1 1312.6,741.8 1313.1,743.4 1313.6,743.5 1314.1,741.8 1314.6,741.6 1315.2,748.3 1315.7,750.6 1316.2,740.4 1316.7,737.3 1317.2,742.9 1317.7,739.9 1318.2,742.4 1318.7,745.6 1319.2,742.8 1319.8,746.6 1320.3,739.1 1320.8,743.1 1321.3,743.5 1321.8,744.5 1322.3,741.0 1322.8,743.0 1323.3,742.9 1323.8,742.9 1324.4,739.7 1324.9,738.9 1325.4,743.9 1325.9,743.5 1326.4,742.9 1326.9,744.2 1327.4,745.2 1327.9,740.3 1328.5,744.6 1329.0,746.1 1329.5,745.1 1330.0,744.2 1330.5,744.5 1331.0,739.8 1331.5,741.9 1332.0,745.2 1332.5,746.3 1333.1,744.0 1333.6,742.0 1334.1,742.8 1334.6,745.0 1335.1,747.6 1335.6,744.9 1336.1,742.0 1336.6,744.6 1337.1,744.2 1337.7,748.6 1338.2,744.6 1338.7,743.4 1339.2,743.2 1339.7,740.7 1340.2,741.1 1340.7,742.4 1341.2,741.7 1341.7,743.9 1342.3,743.8 1342.8,745.6 1343.3,746.9 1343.8,744.0 1344.3,743.2 1344.8,739.6 1345.3,744.5 1345.8,745.2 1346.4,742.1 1346.9,742.9 1347.4,742.3 1347.9,746.2 1348.4,745.2 1348.9,746.6 1349.4,741.3 1349.9,749.8 1350.4,742.1 1351.0,741.7 1351.5,744.4 1352.0,742.8 1352.5,748.1 1353.0,743.2 1353.5,742.6 1354.0,746.3 1354.5,746.9 1355.0,742.4 1355.6,743.2 1356.1,743.5 1356.6,743.9 1357.1,748.1 1357.6,747.1 1358.1,746.7 1358.6,747.2 1359.1,744.4 1359.7,746.4 1360.2,744.3 1360.7,742.8 1361.2,748.2 1361.7,740.7 1362.2,744.6 1362.7,743.3 1363.2,740.9 1363.7,743.8 1364.3,744.8 1364.8,745.7 1365.3,751.2 1365.8,746.4 1366.3,745.4 1366.8,750.6 1367.3,740.6 1367.8,743.8 1368.3,743.5 1368.9,746.1 1369.4,743.3 1369.9,743.8 1370.4,742.4 1370.9,742.3 1371.4,742.9 1371.9,747.1 1372.4,742.7 1373.0,739.7 1373.5,745.7 1374.0,744.1 1374.5,746.4 1375.0,746.3 1375.5,744.5 1376.0,744.3 1376.5,744.0 1377.0,745.3 1377.6,743.6 1378.1,745.8 1378.6,748.4 1379.1,743.9 1379.6,744.0 1380.1,744.0 1380.6,746.8 1381.1,746.9 1381.6,748.7 1382.2,747.1 1382.7,745.9 1383.2,746.6 1383.7,742.8 1384.2,746.9 1384.7,746.1 1385.2,750.2 1385.7,748.8 1386.2,744.0 1386.8,744.6 1387.3,747.8 1387.8,741.4 1388.3,743.9 1388.8,746.7 1389.3,747.4 1389.8,746.4 1390.3,748.6 1390.9,739.3 1391.4,746.4 1391.9,745.8 1392.4,744.0 1392.9,746.5 1393.4,745.3 1393.9,746.7 1394.4,741.0 1394.9,746.9 1395.5,745.6 1396.0,745.5 1396.5,747.0 1397.0,745.9 1397.5,749.0 1398.0,749.7 1398.5,749.0 1399.0,749.3 1399.5,748.0 1400.1,747.4 1400.6,744.7 1401.1,746.7 1401.6,750.1 1402.1,749.2 1402.6,746.6 1403.1,748.0 1403.6,750.1 1404.2,747.6 1404.7,751.4 1405.2,746.4 1405.7,749.8 1406.2,749.6 1406.7,748.6 1407.2,748.9 1407.7,749.5 1408.2,743.7 1408.8,749.5 1409.3,751.0 1409.8,749.5 1410.3,751.1 1410.8,746.3 1411.3,748.7 1411.8,749.6 1412.3,748.4 1412.8,751.5 1413.4,750.1 1413.9,748.1 1414.4,751.0 1414.9,751.0 1415.4,748.5 1415.9,750.8 1416.4,750.3 1416.9,750.3 1417.5,747.1 1418.0,752.4 1418.5,751.1 1419.0,749.8 1419.5,750.7 1420.0,750.7 1420.5,749.5 1421.0,748.9 1421.5,750.4 1422.1,749.1 1422.6,749.4 1423.1,744.5 1423.6,749.9 1424.1,752.6 1424.6,751.1 1425.1,750.8 1425.6,750.1 1426.1,750.0 1426.7,747.9 1427.2,754.3 1427.7,749.6 1428.2,748.1 1428.7,752.0 1429.2,751.7 1429.7,750.3 1430.2,748.4 1430.8,748.7 1431.3,754.7 1431.8,751.3 1432.3,750.3 1432.8,755.3 1433.3,750.5 1433.8,749.7 1434.3,756.4 1434.8,752.3 1435.4,754.7 1435.9,748.5 1436.4,752.2 1436.9,748.2 1437.4,752.5 1437.9,750.3 1438.4,750.7 1438.9,750.1 1439.4,753.3 1440.0,754.9 1440.5,751.4 1441.0,751.1 1441.5,750.6 1442.0,752.6 1442.5,749.5 1443.0,758.7 1443.5,746.2 1444.0,755.0 1444.6,751.9 1445.1,748.8 1445.6,748.5 1446.1,750.7 1446.6,750.1 1447.1,751.1 1447.6,749.3 1448.1,756.3 1448.7,755.9 1449.2,747.9 1449.7,752.5 1450.2,754.0 1450.7,750.9 1451.2,751.1 1451.7,753.8 1452.2,752.7 1452.7,749.1 1453.3,754.0 1453.8,750.6 1454.3,755.3 1454.8,749.6 1455.3,746.9 1455.8,751.8 1456.3,754.0 1456.8,752.6 1457.3,751.9 1457.9,747.2 1458.4,753.4 1458.9,747.8 1459.4,753.1 1459.9,749.1 1460.4,750.3 1460.9,748.9 1461.4,749.7 1462.0,754.5 1462.5,749.1 1463.0,751.9 1463.5,749.9 1464.0,753.6 1464.5,748.7 1465.0,751.5 1465.5,753.3 1466.0,756.1 1466.6,749.1 1467.1,749.7 1467.6,751.4 1468.1,754.5 1468.6,749.4 1469.1,753.1 1469.6,750.2 1470.1,749.4 1470.6,748.2 1471.2,751.7 1471.7,753.5 1472.2,751.3 1472.7,747.1 1473.2,750.3 1473.7,753.4 1474.2,753.3 1474.7,752.1 1475.3,754.6 1475.8,749.1 1476.3,749.3 1476.8,756.7 1477.3,753.3 1477.8,751.6 1478.3,751.1 1478.8,747.0 1479.3,753.9 1479.9,748.2 1480.4,748.4 1480.9,752.4 1481.4,755.6 1481.9,751.8 1482.4,753.5 1482.9,751.9 1483.4,753.7 1483.9,749.6 1484.5,757.2 1485.0,751.2 1485.5,754.3 1486.0,749.2 1486.5,756.9 1487.0,754.3 1487.5,757.5 1488.0,752.3 1488.5,755.7 1489.1,753.4 1489.6,753.7 1490.1,756.4 1490.6,752.2 1491.1,755.5 1491.6,758.0 1492.1,757.6 1492.6,756.4 1493.2,755.0 1493.7,752.5 1494.2,757.3 1494.7,753.3 1495.2,757.0 1495.7,754.1 1496.2,754.9 1496.7,754.9 1497.2,756.2 1497.8,754.2 1498.3,755.5 1498.8,754.2 1499.3,756.3 1499.8,755.9 1500.3,756.3 1500.8,753.9 1501.3,756.2 1501.8,755.8 1502.4,756.9 1502.9,755.9 1503.4,750.9 1503.9,757.2 1504.4,754.6 1504.9,760.2 1505.4,752.0 1505.9,756.9 1506.5,757.3 1507.0,754.3 1507.5,757.2 1508.0,755.4 1508.5,758.8 1509.0,757.4 1509.5,753.8 1510.0,755.9 1510.5,752.9 1511.1,755.7 1511.6,757.4 1512.1,758.0 1512.6,756.2 1513.1,756.0 1513.6,756.8 1514.1,755.4 1514.6,757.2 1515.1,758.7 1515.7,757.0 1516.2,758.3 1516.7,755.2 1517.2,755.8 1517.7,757.4 1518.2,760.7 1518.7,758.8 1519.2,760.1 1519.8,757.1 1520.3,759.3 1520.8,753.9 1521.3,758.1 1521.8,753.2 1522.3,759.5 1522.8,758.1 1523.3,759.4 1523.8,758.0 1524.4,756.4 1524.9,756.0 1525.4,757.7 1525.9,760.2 1526.4,758.6 1526.9,756.5 1527.4,756.5 1527.9,756.2 1528.4,757.2 1529.0,757.5 1529.5,764.1 1530.0,757.7 1530.5,754.8 1531.0,760.6 1531.5,758.2 1532.0,760.6 1532.5,758.3 1533.1,757.4 1533.6,758.0 1534.1,758.3 1534.6,756.6 1535.1,757.2 1535.6,761.4 1536.1,759.7 1536.6,757.0 1537.1,758.9 1537.7,756.4 1538.2,760.6 1538.7,756.1 1539.2,759.7 1539.7,758.1 1540.2,758.1 1540.7,756.6 1541.2,757.6 1541.7,756.7 1542.3,756.5 1542.8,759.0 1543.3,762.8 1543.8,757.6 1544.3,760.0 1544.8,758.2 1545.3,756.9 1545.8,760.7 1546.3,759.4 1546.9,760.4 1547.4,758.5 1547.9,758.6 1548.4,756.8 1548.9,757.9 1549.4,761.5 1549.9,754.2 1550.4,759.1 1551.0,761.1 1551.5,759.9 1552.0,760.1 1552.5,751.7 1553.0,760.6 1553.5,760.6 1554.0,758.5 1554.5,761.6 1555.0,757.7 1555.6,754.1 1556.1,758.6 1556.6,758.4 1557.1,757.1 1557.6,757.8 1558.1,757.7 1558.6,755.4 1559.1,761.0 1559.6,758.8 1560.2,763.7 1560.7,758.8 1561.2,759.6 1561.7,763.0 1562.2,760.8 1562.7,757.0 1563.2,760.0 1563.7,760.7 1564.3,760.5 1564.8,757.6 1565.3,757.7 1565.8,760.5 1566.3,761.3 1566.8,761.9 1567.3,759.2 1567.8,759.1 1568.3,762.6 1568.9,758.3 1569.4,760.8 1569.9,758.9 1570.4,756.9 1570.9,757.5 1571.4,760.4 1571.9,760.0 1572.4,760.5 1572.9,759.0 1573.5,758.8 1574.0,760.2 1574.5,759.4 1575.0,756.9 1575.5,759.0 1576.0,762.9 1576.5,758.5 1577.0,760.9 1577.6,759.8 1578.1,761.3 1578.6,758.5 1579.1,757.8 1579.6,760.9 1580.1,758.9 1580.6,766.7 1581.1,759.6 1581.6,761.9 1582.2,760.7 1582.7,760.5 1583.2,758.6 1583.7,757.6 1584.2,758.9 1584.7,761.9 1585.2,761.7 1585.7,761.5 1586.2,759.8 1586.8,758.7 1587.3,762.6 1587.8,760.9 1588.3,761.6 1588.8,759.0 1589.3,759.5 1589.8,761.9 1590.3,762.1 1590.8,759.0 1591.4,761.3 1591.9,758.8 1592.4,763.0 1592.9,762.1 1593.4,764.9 1593.9,763.6 1594.4,759.9 1594.9,761.4 1595.5,760.3 1596.0,761.4 1596.5,762.5 1597.0,761.2 1597.5,761.3 1598.0,758.9 1598.5,762.3 1599.0,761.3 1599.5,762.5 1600.1,763.2 1600.6,761.5 1601.1,762.6 1601.6,760.4 1602.1,763.1 1602.6,761.4 1603.1,760.5 1603.6,756.3 1604.1,759.1 1604.7,760.4 1605.2,760.8 1605.7,761.6 1606.2,761.5 1606.7,760.5 1607.2,761.3 1607.7,758.0 1608.2,761.8 1608.8,762.6 1609.3,763.1 1609.8,763.6 1610.3,761.4 1610.8,761.6 1611.3,760.9 1611.8,761.0 1612.3,762.0 1612.8,764.1 1613.4,758.9 1613.9,761.0 1614.4,762.3 1614.9,760.2 1615.4,762.6 1615.9,759.6 1616.4,768.4 1616.9,759.1 1617.4,762.4 1618.0,760.6 1618.5,763.1 1619.0,761.5 1619.5,760.4 1620.0,761.3 1620.5,762.3 1621.0,762.0 1621.5,761.6 1622.1,761.5 1622.6,762.1 1623.1,763.5 1623.6,761.2 1624.1,762.9 1624.6,759.9 1625.1,763.7 1625.6,762.8 1626.1,761.6 1626.7,761.7 1627.2,759.4 1627.7,762.4 1628.2,761.9 1628.7,759.9 1629.2,761.6 1629.7,763.3 1630.2,762.6 1630.7,762.8 1631.3,761.5 1631.8,763.8 1632.3,762.4 1632.8,763.9 1633.3,766.2 1633.8,759.1 1634.3,761.7 1634.8,762.5 1635.4,761.3 1635.9,764.3 1636.4,756.2 1636.9,765.4 1637.4,763.9 1637.9,763.3 1638.4,762.6 1638.9,764.1 1639.4,763.5 1640.0,765.2 1640.5,763.4 1641.0,764.5 1641.5,763.5 1642.0,763.4 1642.5,760.2 1643.0,766.6 1643.5,768.7 1644.0,760.9 1644.6,760.6 1645.1,762.4 1645.6,763.4 1646.1,760.1 1646.6,768.3 1647.1,764.6 1647.6,762.6 1648.1,763.5 1648.6,763.9 1649.2,762.0 1649.7,764.2 1650.2,763.9 1650.7,761.1 1651.2,764.1 1651.7,764.7 1652.2,761.4 1652.7,764.7 1653.3,762.8 1653.8,761.1 1654.3,761.6 1654.8,761.9 1655.3,764.3 1655.8,762.6 1656.3,762.8 1656.8,761.3 1657.3,763.5 1657.9,761.4 1658.4,762.4 1658.9,764.5 1659.4,764.6 1659.9,762.7 1660.4,763.5 1660.9,764.5 1661.4,763.6 1661.9,765.6 1662.5,765.9 1663.0,763.6 1663.5,761.7 1664.0,763.5 1664.5,766.0 1665.0,765.6 1665.5,765.8 1666.0,765.7 1666.6,763.0 1667.1,764.3 1667.6,765.7 1668.1,764.4 1668.6,765.4 1669.1,762.3 1669.6,762.0 1670.1,767.3 1670.6,765.3 1671.2,765.1 1671.7,766.5 1672.2,767.8 1672.7,768.9 1673.2,760.3 1673.7,764.9 1674.2,766.0 1674.7,761.2 1675.2,761.5 1675.8,764.2 1676.3,767.6 1676.8,766.1 1677.3,768.1 1677.8,765.1 1678.3,766.4 1678.8,767.2 1679.3,765.5 1679.9,764.7 1680.4,765.0 1680.9,758.8 1681.4,765.4 1681.9,761.9 1682.4,763.6 1682.9,766.1 1683.4,765.7 1683.9,761.8 1684.5,765.9 1685.0,766.3 1685.5,765.5 1686.0,766.3 1686.5,766.2 1687.0,769.1 1687.5,765.0 1688.0,764.9 1688.5,763.4 1689.1,765.3 1689.6,764.1 1690.1,765.3 1690.6,764.1 1691.1,767.2 1691.6,769.2 1692.1,764.7 1692.6,765.7 1693.1,765.8 1693.7,766.5 1694.2,765.5 1694.7,762.2 1695.2,766.4 1695.7,765.7 1696.2,764.2 1696.7,765.6"/>
<polyline stroke="#000000" points="152.0,833.6 152.5,835.9 153.0,833.8 153.5,826.7 154.0,836.7 154.6,834.8 155.1,830.6 155.6,835.7 156.1,834.9 156.6,834.8 157.1,833.8 157.6,836.2 158.1,830.7 158.6,833.4 159.2,832.1 159.7,837.1 160.2,834.8 160.7,833.5 161.2,831.5 161.7,834.0 162.2,835.3 162.7,834.2 163.3,841.4 163.8,840.3 164.3,823.9 164.8,827.7 165.3,835.5 165.8,834.6 166.3,837.5 166.8,837.7 167.3,846.4 167.9,832.1 168.4,835.6 168.9,846.5 169.4,840.5 169.9,840.7 170.4,835.7 170.9,830.9 171.4,839.3 171.9,839.4 172.5,833.9 173.0,836.7 173.5,839.8 174.0,836.3 174.5,840.5 175.0,841.7 175.5,841.8 176.0,839.8 176.6,845.1 177.1,846.8 177.6,844.7 178.1,840.0 178.6,847.3 179.1,842.2 179.6,848.7 180.1,840.5 180.6,849.6 181.2,845.9 181.7,840.9 182.2,845.4 182.7,847.4 183.2,848.7 183.7,843.6 184.2,843.4 184.7,849.6 185.2,847.1 185.8,850.6 186.3,853.3 186.8,843.1 187.3,851.9 187.8,856.6 188.3,850.3 188.8,848.5 189.3,855.7 189.9,854.0 190.4,857.2 190.9,852.2 191.4,847.6 191.9,854.0 192.4,853.0 192.9,858.7 193.4,840.8 193.9,849.0 194.5,851.4 195.0,860.8 195.5,860.3 196.0,855.0 196.5,858.2 197.0,860.6 197.5,861.1 198.0,863.3 198.5,861.0 199.1,859.9 199.6,859.6 200.1,865.7 200.6,851.8 201.1,861.3 201.6,862.4 202.1,856.3 202.6,864.1 203.2,860.0 203.7,866.6 204.2,862.4 204.7,866.0 205.2,868.4 205.7,864.9 206.2,859.6 206.7,857.0 207.2,871.2 207.8,863.2 208.3,860.8 208.8,864.5 209.3,863.2 209.8,867.8 210.3,864.4 210.8,864.4 211.3,849.2 211.8,866.6 212.4,860.2 212.9,867.6 213.4,871.4 213.9,881.0 214.4,854.5 214.9,867.8 215.4,876.2 215.9,861.1 216.4,860.1 217.0,868.1 217.5,862.1 218.0,863.6 218.5,864.3 219.0,867.9 219.5,863.5 220.0,865.8 220.5,863.2 221.1,859.6 221.6,861.2 222.1,857.8 222.6,861.2 223.1,855.7 223.6,855.1 224.1,865.5 224.6,845.2 225.1,857.6 225.7,859.4 226.2,854.6 226.7,854.8 227.2,856.9 227.7,855.6 228.2,848.6 228.7,856.7 229.2,849.9 229.7,847.5 230.3,847.9 230.8,850.0 231.3,858.8 231.8,846.4 232.3,852.1 232.8,841.9 233.3,851.2 233.8,855.1 234.4,835.1 234.9,848.1 235.4,851.8 235.9,853.8 236.4,853.5 236.9,859.1 237.4,851.3 237.9,847.7 238.4,849.6 239.0,833.9 239.5,850.4 240.0,849.7 240.5,850.5 241.0,842.3 241.5,853.2 242.0,846.9 242.5,844.1 243.0,852.0 243.6,854.9 244.1,851.2 244.6,849.6 245.1,844.7 245.6,861.3 246.1,852.4 246.6,843.4 247.1,844.9 247.7,848.6 248.2,841.3 248.7,848.8 249.2,845.9 249.7,853.2 250.2,852.0 250.7,835.7 251.2,847.7 251.7,840.3 252.3,852.2 252.8,847.9 253.3,849.5 253.8,842.4 254.3,855.1 254.8,856.0 255.3,842.4 255.8,848.8 256.3,844.3 256.9,847.2 257.4,841.7 257.9,855.6 258.4,843.1 258.9,846.1 259.4,849.7 259.9,844.7 260.4,846.5 260.9,845.1 261.5,847.1 262.0,842.6 262.5,845.8 263.0,846.9 263.5,846.4 264.0,848.2 264.5,846.7 265.0,851.3 265.6,846.6 266.1,847.5 266.6,833.0 267.1,845.9 267.6,842.6 268.1,850.5 268.6,843.3 269.1,845.1 269.6,850.0 270.2,850.2 270.7,846.7 271.2,839.6 271.7,850.4 272.2,849.8 272.7,842.4 273.2,852.1 273.7,845.7 274.2,843.8 274.8,849.3 275.3,848.1 275.8,849.8 276.3,841.9 276.8,857.0 277.3,846.4 277.8,842.3 278.3,851.9 278.9,847.6 279.4,850.7 279.9,847.8 280.4,849.1 280.9,850.5 281.4,846.1 281.9,852.5 282.4,866.1 282.9,845.7 283.5,849.9 284.0,851.6 284.5,848.7 285.0,845.9 285.5,852.5 286.0,842.1 286.5,845.3 287.0,850.1 287.5,844.0 288.1,850.1 288.6,849.7 289.1,853.9 289.6,845.8 290.1,847.1 290.6,851.3 291.1,838.9 291.6,863.4 292.2,846.6 292.7,846.4 293.2,853.4 293.7,849.4 294.2,841.7 294.7,852.2 295.2,853.2 295.7,847.4 296.2,848.1 296.8,851.4 297.3,845.3 297.8,851.1 298.3,850.1 298.8,846.2 299.3,843.0 299.8,848.1 300.3,845.2 300.8,853.4 301.4,849.6 301.9,852.3 302.4,849.4 302.9,850.0 303.4,845.3 303.9,851.7 304.4,856.5 304.9,847.3 305.5,846.0 306.0,847.8 306.5,846.3 307.0,860.2 307.5,848.8 308.0,846.8 308.5,854.3 309.0,847.9 309.5,849.2 310.1,851.9 310.6,846.2 311.1,853.8 311.6,844.5 312.1,843.7 312.6,845.5 313.1,846.5 313.6,840.7 314.1,846.6 314.7,839.3 315.2,852.7 315.7,846.1 316.2,843.5 316.7,842.3 317.2,844.5 317.7,845.1 318.2,841.3 318.7,841.8 319.3,844.9 319.8,843.3 320.3,849.7 320.8,850.4 321.3,845.4 321.8,847.3 322.3,839.2 322.8,847.6 323.4,844.3 323.9,846.2 324.4,850.7 324.9,833.1 325.4,843.9 325.9,837.4 326.4,844.5 326.9,835.6 327.4,838.8 328.0,841.4 328.5,830.0 329.0,840.0 329.5,835.7 330.0,836.3 330.5,842.2 331.0,837.8 331.5,829.9 332.0,840.7 332.6,838.4 333.1,840.0 333.6,834.1 334.1,838.9 334.6,830.0 335.1,836.8 335.6,831.7 336.1,836.5 336.7,837.7 337.2,829.8 337.7,832.8 338.2,833.2 338.7,838.3 339.2,836.2 339.7,827.6 340.2,835.0 340.7,836.3 341.3,842.5 341.8,825.5 342.3,830.6 342.8,839.0 343.3,826.9 343.8,827.6 344.3,835.3 344.8,837.6 345.3,830.0 345.9,835.4 346.4,833.5 346.9,839.8 347.4,833.0 347.9,837.4 348.4,829.0 348.9,832.2 349.4,832.6 350.0,838.2 350.5,835.8 351.0,830.3 351.5,837.2 352.0,838.2 352.5,834.8 353.0,834.8 353.5,835.7 354.0,829.6 354.6,838.6 355.1,839.4 355.6,835.1 356.1,842.8 356.6,834.0 357.1,838.3 357.6,839.2 358.1,850.7 358.6,835.4 359.2,845.6 359.7,847.9 360.2,846.1 360.7,850.5 361.2,842.2 361.7,838.2 362.2,853.3 362.7,846.5 363.2,852.1 363.8,850.2 364.3,861.7 364.8,862.6 365.3,857.5 365.8,866.3 366.3,864.7 366.8,865.3 367.3,867.7 367.9,867.9 368.4,872.2 368.9,871.5 369.4,869.2 369.9,875.5 370.4,869.2 370.9,873.5 371.4,874.6 371.9,879.6 372.5,871.7 373.0,881.7 373.5,875.6 374.0,874.6 374.5,873.1 375.0,878.9 375.5,877.2 376.0,872.8 376.5,873.2 377.1,876.2 377.6,876.2 378.1,884.1 378.6,885.9 379.1,884.2 379.6,882.6 380.1,879.9 380.6,896.6 381.2,886.4 381.7,892.1 382.2,887.5 382.7,883.1 383.2,884.9 383.7,883.3 384.2,882.6 384.7,901.2 385.2,887.8 385.8,895.2 386.3,888.5 386.8,894.6 387.3,896.9 387.8,890.6 388.3,897.6 388.8,894.6 389.3,890.6 389.8,894.1 390.4,893.8 390.9,893.4 391.4,894.2 391.9,896.3 392.4,898.1 392.9,893.4 393.4,897.7 393.9,892.2 394.5,900.1 395.0,902.3 395.5,901.1 396.0,902.2 396.5,904.1 397.0,899.7 397.5,902.1 398.0,914.0 398.5,908.5 399.1,906.7 399.6,916.1 400.1,906.1 400.6,911.2 401.1,912.9 401.6,907.9 402.1,905.9 402.6,905.1 403.1,911.2 403.7,915.6 404.2,912.9 404.7,913.2 405.2,911.7 405.7,916.0 406.2,905.7 406.7,915.5 407.2,915.1 407.8,909.9 408.3,924.3 408.8,910.5 409.3,912.1 409.8,912.0 410.3,921.4 410.8,913.9 411.3,920.4 411.8,920.4 412.4,919.5 412.9,913.6 413.4,916.7 413.9,926.1 414.4,914.7 414.9,916.9 415.4,919.9 415.9,924.0 416.4,922.2 417.0,924.5 417.5,917.7 418.0,925.9 418.5,924.8 419.0,916.7 419.5,929.3 420.0,932.6 420.5,921.0 421.0,924.5 421.6,930.1 422.1,919.2 422.6,917.6 423.1,920.6 423.6,923.8 424.1,924.1 424.6,929.1 425.1,941.8 425.7,922.6 426.2,930.0 426.7,935.4 427.2,933.2 427.7,932.8 428.2,929.5 428.7,933.6 429.2,926.5 429.7,933.5 430.3,930.7 430.8,935.8 431.3,933.7 431.8,928.1 432.3,933.2 432.8,937.8 433.3,929.2 433.8,931.8 434.3,931.4 434.9,929.0 435.4,938.9 435.9,940.6 436.4,939.1 436.9,937.3 437.4,936.6 437.9,938.2 438.4,934.9 439.0,941.5 439.5,942.5 440.0,942.5 440.5,937.3 441.0,940.0 441.5,939.5 442.0,947.3 442.5,929.2 443.0,934.2 443.6,943.3 444.1,949.3 444.6,930.1 445.1,946.1 445.6,943.3 446.1,936.0 446.6,936.9 447.1,939.4 447.6,943.9 448.2,945.9 448.7,947.6 449.2,944.1 449.7,949.3 450.2,944.9 450.7,943.7 451.2,949.8 451.7,943.5 452.3,937.0 452.8,943.6 453.3,948.3 453.8,957.4 454.3,947.2 454.8,947.6 455.3,943.8 455.8,944.0 456.3,948.1 456.9,948.1 457.4,955.1 457.9,951.9 458.4,944.7 458.9,947.4 459.4,953.2 459.9,957.7 460.4,952.0 460.9,951.8 461.5,957.5 462.0,936.5 462.5,949.4 463.0,945.3 463.5,948.7 464.0,958.7 464.5,945.3 465.0,950.6 465.5,945.3 466.1,951.1 466.6,953.9 467.1,936.7 467.6,953.3 468.1,953.3 468.6,952.3 469.1,957.0 469.6,953.5 470.2,949.5 470.7,948.1 471.2,947.4 471.7,952.4 472.2,949.4 472.7,960.8 473.2,957.5 473.7,949.8 474.2,949.3 474.8,956.6 475.3,942.7 475.8,947.3 476.3,951.6 476.8,943.7 477.3,944.4 477.8,944.0 478.3,946.9 478.8,944.0 479.4,944.0 479.9,943.8 480.4,940.8 480.9,943.9 481.4,936.0 481.9,932.4 482.4,930.2 482.9,929.8 483.5,933.0 484.0,938.2 484.5,934.1 485.0,930.2 485.5,927.6 486.0,928.8 486.5,928.5 487.0,927.0 487.5,922.8 488.1,925.6 488.6,930.6 489.1,917.3 489.6,924.0 490.1,915.8 490.6,924.0 491.1,919.4 491.6,913.0 492.1,919.8 492.7,924.1 493.2,914.5 493.7,915.7 494.2,907.8 494.7,896.3 495.2,904.0 495.7,897.3 496.2,890.0 496.8,896.2 497.3,891.1 497.8,884.8 498.3,887.4 498.8,876.7 499.3,879.2 499.8,887.6 500.3,870.0 500.8,858.3 501.4,864.9 501.9,854.9 502.4,855.5 502.9,841.0 503.4,837.9 503.9,839.0 504.4,818.8 504.9,821.9 505.4,827.1 506.0,821.9 506.5,821.9 507.0,815.4 507.5,816.9 508.0,811.3 508.5,817.9 509.0,806.7 509.5,807.9 510.1,806.8 510.6,805.8 511.1,801.8 511.6,803.5 512.1,808.9 512.6,807.4 513.1,807.3 513.6,816.1 514.1,805.9 514.7,818.6 515.2,811.4 515.7,824.7 516.2,824.1 516.7,821.9 517.2,821.7 517.7,828.8 518.2,828.1 518.7,839.2 519.3,843.1 519.8,850.4 520.3,857.2 520.8,865.6 521.3,861.4 521.8,872.6 522.3,869.7 522.8,874.0 523.3,879.7 523.9,882.4 524.4,894.6 524.9,898.4 525.4,903.8 525.9,902.6 526.4,907.8 526.9,924.2 527.4,910.2 528.0,920.6 528.5,923.9 529.0,922.6 529.5,933.0 530.0,927.4 530.5,936.1 531.0,936.6 531.5,939.0 532.0,938.9 532.6,948.6 533.1,949.1 533.6,953.4 534.1,951.5 534.6,948.2 535.1,953.6 535.6,952.6 536.1,949.2 536.6,965.4 537.2,964.2 537.7,962.8 538.2,965.6 538.7,969.7 539.2,965.8 539.7,973.5 540.2,975.6 540.7,974.9 541.3,977.1 541.8,980.9 542.3,979.1 542.8,980.8 543.3,988.1 543.8,987.9 544.3,994.6 544.8,987.0 545.3,986.0 545.9,997.1 546.4,998.8 546.9,994.7 547.4,993.9 547.9,1000.5 548.4,996.4 548.9,1002.9 549.4,998.4 549.9,1006.6 550.5,1001.9 551.0,1009.7 551.5,1016.7 552.0,1011.7 552.5,1016.1 553.0,1012.3 553.5,1012.3 554.0,1011.2 554.6,1020.5 555.1,1017.7 555.6,1024.2 556.1,1015.8 556.6,1019.9 557.1,1021.7 557.6,1027.0 558.1,1029.2 558.6,1022.0 559.2,1021.3 559.7,1020.3 560.2,1031.1 560.7,1036.3 561.2,1026.5 561.7,1029.3 562.2,1022.1 562.7,1025.7 563.2,1035.1 563.8,1034.3 564.3,1034.4 564.8,1043.6 565.3,1038.0 565.8,1043.0 566.3,1034.7 566.8,1039.9 567.3,1039.8 567.8,1043.6 568.4,1043.8 568.9,1044.6 569.4,1043.5 569.9,1056.9 570.4,1046.9 570.9,1049.7 571.4,1051.2 571.9,1054.7 572.5,1052.2 573.0,1054.3 573.5,1059.8 574.0,1057.1 574.5,1058.3 575.0,1063.0 575.5,1062.4 576.0,1063.1 576.5,1064.6 577.1,1073.9 577.6,1067.5 578.1,1071.1 578.6,1069.9 579.1,1064.5 579.6,1071.0 580.1,1068.5 580.6,1071.6 581.1,1073.6 581.7,1070.8 582.2,1079.3 582.7,1076.1 583.2,1079.7 583.7,1080.2 584.2,1083.2 584.7,1083.4 585.2,1076.3 585.8,1081.3 586.3,1073.1 586.8,1080.9 587.3,1084.9 587.8,1086.0 588.3,1087.6 588.8,1083.3 589.3,1085.9 589.8,1085.8 590.4,1089.7 590.9,1091.2 591.4,1086.1 591.9,1098.6 592.4,1088.2 592.9,1087.7 593.4,1091.1 593.9,1092.0 594.4,1091.8 595.0,1088.6 595.5,1094.6 596.0,1090.2 596.5,1094.0 597.0,1093.2 597.5,1085.1 598.0,1085.2 598.5,1084.0 599.1,1085.7 599.6,1082.8 600.1,1080.7 600.6,1074.8 601.1,1075.4 601.6,1075.1 602.1,1063.5 602.6,1063.0 603.1,1059.6 603.7,1053.0 604.2,1047.0 604.7,1047.1 605.2,1028.3 605.7,1031.9 606.2,1020.3 606.7,1022.6 607.2,1010.2 607.7,1001.4 608.3,997.1 608.8,992.8 609.3,995.3 609.8,987.9 610.3,984.5 610.8,978.7 611.3,980.5 611.8,977.1 612.4,976.3 612.9,977.7 613.4,976.9 613.9,980.0 614.4,982.5 614.9,981.1 615.4,987.3 615.9,988.6 616.4,996.6 617.0,1004.2 617.5,1003.5 618.0,1018.1 618.5,1018.1 619.0,1022.0 619.5,1032.0 620.0,1041.7 620.5,1041.9 621.0,1053.0 621.6,1055.8 622.1,1070.5 622.6,1074.0 623.1,1078.2 623.6,1087.6 624.1,1085.6 624.6,1092.6 625.1,1103.2 625.6,1101.3 626.2,1108.2 626.7,1107.1 627.2,1106.3 627.7,1109.1 628.2,1111.6 628.7,1111.8 629.2,1112.0 629.7,1113.0 630.3,1111.4 630.8,1115.6 631.3,1116.0 631.8,1116.7 632.3,1109.4 632.8,1116.2 633.3,1113.7 633.8,1109.5 634.3,1113.3 634.9,1115.0 635.4,1113.9 635.9,1114.1 636.4,1114.4 636.9,1113.9 637.4,1111.1 637.9,1105.2 638.4,1108.5 638.9,1111.2 639.5,1108.6 640.0,1111.5 640.5,1111.6 641.0,1109.5 641.5,1114.9 642.0,1107.6 642.5,1113.5 643.0,1110.3 643.6,1110.2 644.1,1114.5 644.6,1111.9 645.1,1116.6 645.6,1111.8 646.1,1115.7 646.6,1114.0 647.1,1116.3 647.6,1116.6 648.2,1115.3 648.7,1120.7 649.2,1116.3 649.7,1117.7 650.2,1123.3 650.7,1124.1 651.2,1123.7 651.7,1123.1 652.2,1128.5 652.8,1119.5 653.3,1121.0 653.8,1120.6 654.3,1125.9 654.8,1124.5 655.3,1126.9 655.8,1126.8 656.3,1123.9 656.9,1122.6 657.4,1122.5 657.9,1131.3 658.4,1128.5 658.9,1127.9 659.4,1125.9 659.9,1126.8 660.4,1126.8 660.9,1127.3 661.5,1122.3 662.0,1128.9 662.5,1128.5 663.0,1130.7 663.5,1131.0 664.0,1133.1 664.5,1131.3 665.0,1133.9 665.5,1125.6 666.1,1129.8 666.6,1137.6 667.1,1130.4 667.6,1133.3 668.1,1136.3 668.6,1132.7 669.1,1137.3 669.6,1132.1 670.1,1131.3 670.7,1133.0 671.2,1142.7 671.7,1136.8 672.2,1136.1 672.7,1137.9 673.2,1134.6 673.7,1143.9 674.2,1137.3 674.8,1137.6 675.3,1139.0 675.8,1137.4 676.3,1136.5 676.8,1138.5 677.3,1140.8 677.8,1140.3 678.3,1141.2 678.8,1137.5 679.4,1137.1 679.9,1144.3 680.4,1138.7 680.9,1140.7 681.4,1141.5 681.9,1143.4 682.4,1136.5 682.9,1138.9 683.4,1139.1 684.0,1139.6 684.5,1134.4 685.0,1140.5 685.5,1148.6 686.0,1141.8 686.5,1142.5 687.0,1142.8 687.5,1138.4 688.1,1144.0 688.6,1139.6 689.1,1138.8 689.6,1139.6 690.1,1140.1 690.6,1142.8 691.1,1144.6 691.6,1137.3 692.1,1141.4 692.7,1145.3 693.2,1143.6 693.7,1144.6 694.2,1139.6 694.7,1146.0 695.2,1139.8 695.7,1144.4 696.2,1147.5 696.7,1149.0 697.3,1145.6 697.8,1146.7 698.3,1143.1 698.8,1143.6 699.3,1147.9 699.8,1145.1 700.3,1144.9 700.8,1141.9 701.4,1146.0 701.9,1147.4 702.4,1143.9 702.9,1144.8 703.4,1150.2 703.9,1146.8 704.4,1145.8 704.9,1143.8 705.4,1145.3 706.0,1146.3 706.5,1150.6 707.0,1145.7 707.5,1151.9 708.0,1145.3 708.5,1146.8 709.0,1150.0 709.5,1147.4 710.0,1146.1 710.6,1148.0 711.1,1149.6 711.6,1144.4 712.1,1148.2 712.6,1148.7 713.1,1141.8 713.6,1151.1 714.1,1147.9 714.7,1148.4 715.2,1149.4 715.7,1151.1 716.2,1148.7 716.7,1153.0 717.2,1146.9 717.7,1152.4 718.2,1147.0 718.7,1148.7 719.3,1150.0 719.8,1154.2 720.3,1151.3 720.8,1155.9 721.3,1152.3 721.8,1148.4 722.3,1147.0 722.8,1150.0 723.3,1149.1 723.9,1151.2 724.4,1147.4 724.9,1149.8 725.4,1150.4 725.9,1149.4 726.4,1148.6 726.9,1146.9 727.4,1150.9 727.9,1149.0 728.5,1149.8 729.0,1147.7 729.5,1148.6 730.0,1145.9 730.5,1148.8 731.0,1150.6 731.5,1140.3 732.0,1150.9 732.6,1149.6 733.1,1152.4 733.6,1148.5 734.1,1145.0 734.6,1150.3 735.1,1148.8 735.6,1146.9 736.1,1151.0 736.6,1150.2 737.2,1150.7 737.7,1148.8 738.2,1150.2 738.7,1150.4 739.2,1154.3 739.7,1148.3 740.2,1150.0 740.7,1151.0 741.2,1145.9 741.8,1146.3 742.3,1155.8 742.8,1146.0 743.3,1152.0 743.8,1148.5 744.3,1148.8 744.8,1145.8 745.3,1148.6 745.9,1152.9 746.4,1147.5 746.9,1152.5 747.4,1151.8 747.9,1156.0 748.4,1149.8 748.9,1154.2 749.4,1153.2 749.9,1150.3 750.5,1146.9 751.0,1154.8 751.5,1147.6 752.0,1149.8 752.5,1153.2 753.0,1153.8 753.5,1148.9 754.0,1150.9 754.5,1150.4 755.1,1153.9 755.6,1157.2 756.1,1146.4 756.6,1153.3 757.1,1143.9 757.6,1151.0 758.1,1148.2 758.6,1155.9 759.2,1151.2 759.7,1148.5 760.2,1148.4 760.7,1147.4 761.2,1148.5 761.7,1146.8 762.2,1147.9 762.7,1148.9 763.2,1145.0 763.8,1137.9 764.3,1134.3 764.8,1133.9 765.3,1135.9 765.8,1130.0 766.3,1127.1 766.8,1127.3 767.3,1121.8 767.8,1120.9 768.4,1122.9 768.9,1119.6 769.4,1117.9 769.9,1118.3 770.4,1116.1 770.9,1115.4 771.4,1115.2 771.9,1115.6 772.4,1114.6 773.0,1113.5 773.5,1114.6 774.0,1116.2 774.5,1118.6 775.0,1117.2 775.5,1120.3 776.0,1121.2 776.5,1125.0 777.1,1126.7 777.6,1131.3 778.1,1131.8 778.6,1131.8 779.1,1134.1 779.6,1138.7 780.1,1141.0 780.6,1148.3 781.1,1148.8 781.7,1144.0 782.2,1150.0 782.7,1147.7 783.2,1148.1 783.7,1154.7 784.2,1154.5 784.7,1150.8 785.2,1157.6 785.7,1151.3 786.3,1151.1 786.8,1155.8 787.3,1154.9 787.8,1154.2 788.3,1154.6 788.8,1155.5 789.3,1154.9 789.8,1155.0 790.4,1150.9 790.9,1152.5 791.4,1157.5 791.9,1154.5 792.4,1157.8 792.9,1159.7 793.4,1156.0 793.9,1157.8 794.4,1162.4 795.0,1159.1 795.5,1162.0 796.0,1161.3 796.5,1159.4 797.0,1157.2 797.5,1155.5 798.0,1154.8 798.5,1158.7 799.0,1158.7 799.6,1157.1 800.1,1159.6 800.6,1156.1 801.1,1160.3 801.6,1157.7 802.1,1165.9 802.6,1157.6 803.1,1157.4 803.7,1163.7 804.2,1153.7 804.7,1158.2 805.2,1160.9 805.7,1159.7 806.2,1157.2 806.7,1162.3 807.2,1155.5 807.7,1155.0 808.3,1159.7 808.8,1154.8 809.3,1152.6 809.8,1160.7 810.3,1160.5 810.8,1160.5 811.3,1157.6 811.8,1159.3 812.3,1156.5 812.9,1163.2 813.4,1161.0 813.9,1161.0 814.4,1154.4 814.9,1161.3 815.4,1163.0 815.9,1162.4 816.4,1161.5 817.0,1159.6 817.5,1158.8 818.0,1161.2 818.5,1160.8 819.0,1160.5 819.5,1159.2 820.0,1164.2 820.5,1157.3 821.0,1160.2 821.6,1158.9 822.1,1162.9 822.6,1164.0 823.1,1163.6 823.6,1162.5 824.1,1157.3 824.6,1165.9 825.1,1162.1 825.6,1170.0 826.2,1161.1 826.7,1160.3 827.2,1162.2 827.7,1162.0 828.2,1155.5 828.7,1155.1 829.2,1161.4 829.7,1162.7 830.2,1162.9 830.8,1161.3 831.3,1162.9 831.8,1164.4 832.3,1160.8 832.8,1165.6 833.3,1157.3 833.8,1159.1 834.3,1160.0 834.9,1156.4 835.4,1160.0 835.9,1165.5 836.4,1165.6 836.9,1162.9 837.4,1166.9 837.9,1163.3 838.4,1161.6 838.9,1163.3 839.5,1162.4 840.0,1164.5 840.5,1159.0 841.0,1165.1 841.5,1161.5 842.0,1164.7 842.5,1158.8 843.0,1161.5 843.5,1162.7 844.1,1164.7 844.6,1159.5 845.1,1166.5 845.6,1163.6 846.1,1155.7 846.6,1165.3 847.1,1162.6 847.6,1165.1 848.2,1167.9 848.7,1164.1 849.2,1160.9 849.7,1161.2 850.2,1163.6 850.7,1162.8 851.2,1154.8 851.7,1160.5 852.2,1163.7 852.8,1167.8 853.3,1155.6 853.8,1163.7 854.3,1161.4 854.8,1163.8 855.3,1164.0 855.8,1162.0 856.3,1159.4 856.8,1158.4 857.4,1157.2 857.9,1164.8 858.4,1161.2 858.9,1160.4 859.4,1161.0 859.9,1158.4 860.4,1162.4 860.9,1164.8 861.5,1164.4 862.0,1157.7 862.5,1164.9 863.0,1159.6 863.5,1156.8 864.0,1158.5 864.5,1159.1 865.0,1161.4 865.5,1158.9 866.1,1157.7 866.6,1160.7 867.1,1166.0 867.6,1159.6 868.1,1169.5 868.6,1161.4 869.1,1167.7 869.6,1156.5 870.1,1163.8 870.7,1158.0 871.2,1159.6 871.7,1160.8 872.2,1168.8 872.7,1159.1 873.2,1156.2 873.7,1163.9 874.2,1158.5 874.7,1159.8 875.3,1160.1 875.8,1160.2 876.3,1159.4 876.8,1160.3 877.3,1160.4 877.8,1161.4 878.3,1158.1 878.8,1157.1 879.4,1156.2 879.9,1160.1 880.4,1158.3 880.9,1159.6 881.4,1159.4 881.9,1162.1 882.4,1158.3 882.9,1159.4 883.4,1154.5 884.0,1154.6 884.5,1156.3 885.0,1153.9 885.5,1158.4 886.0,1153.3 886.5,1156.6 887.0,1150.8 887.5,1153.3 888.0,1155.0 888.6,1155.1 889.1,1151.1 889.6,1155.6 890.1,1157.6 890.6,1156.6 891.1,1153.2 891.6,1153.2 892.1,1151.6 892.7,1155.9 893.2,1157.7 893.7,1152.7 894.2,1149.7 894.7,1154.2 895.2,1155.4 895.7,1146.7 896.2,1153.7 896.7,1158.6 897.3,1155.1 897.8,1154.3 898.3,1153.9 898.8,1155.4 899.3,1150.3 899.8,1150.4 900.3,1153.4 900.8,1150.5 901.3,1152.7 901.9,1147.2 902.4,1153.7 902.9,1153.8 903.4,1151.7 903.9,1151.9 904.4,1159.7 904.9,1148.5 905.4,1148.8 906.0,1148.2 906.5,1149.8 907.0,1148.2 907.5,1150.7 908.0,1148.8 908.5,1146.7 909.0,1146.3 909.5,1153.1 910.0,1149.8 910.6,1149.3 911.1,1149.8 911.6,1149.4 912.1,1151.4 912.6,1150.8 913.1,1147.7 913.6,1147.0 914.1,1146.1 914.6,1145.4 915.2,1151.8 915.7,1145.6 916.2,1142.5 916.7,1145.1 917.2,1145.0 917.7,1147.4 918.2,1144.0 918.7,1147.3 919.3,1146.6 919.8,1148.5 920.3,1150.5 920.8,1151.9 921.3,1147.7 921.8,1141.0 922.3,1142.6 922.8,1144.0 923.3,1148.3 923.9,1144.4 924.4,1145.4 924.9,1141.6 925.4,1143.2 925.9,1143.2 926.4,1139.9 926.9,1142.7 927.4,1143.0 927.9,1139.4 928.5,1141.6 929.0,1142.3 929.5,1137.3 930.0,1136.1 930.5,1134.3 931.0,1132.5 931.5,1133.5 932.0,1122.4 932.5,1130.3 933.1,1128.1 933.6,1125.1 934.1,1125.7 934.6,1128.0 935.1,1123.0 935.6,1123.4 936.1,1128.5 936.6,1126.1 937.2,1120.3 937.7,1122.8 938.2,1118.4 938.7,1123.5 939.2,1116.6 939.7,1117.4 940.2,1119.9 940.7,1112.9 941.2,1117.7 941.8,1110.6 942.3,1112.0 942.8,1108.7 943.3,1107.2 943.8,1105.9 944.3,1103.2 944.8,1098.5 945.3,1101.7 945.8,1099.2 946.4,1098.8 946.9,1097.0 947.4,1087.1 947.9,1092.6 948.4,1090.6 948.9,1083.3 949.4,1085.7 949.9,1084.8 950.5,1076.3 951.0,1070.7 951.5,1070.0 952.0,1075.4 952.5,1063.7 953.0,1055.3 953.5,1054.2 954.0,1047.8 954.5,1045.6 955.1,1043.1 955.6,1030.6 956.1,1035.4 956.6,1033.8 957.1,1023.1 957.6,1016.7 958.1,1015.8 958.6,1002.4 959.1,997.7 959.7,993.1 960.2,993.7 960.7,992.1 961.2,987.1 961.7,985.8 962.2,983.3 962.7,978.8 963.2,971.8 963.8,971.1 964.3,973.2 964.8,965.9 965.3,966.5 965.8,964.8 966.3,963.8 966.8,961.3 967.3,959.8 967.8,962.7 968.4,960.7 968.9,959.8 969.4,961.6 969.9,964.1 970.4,964.2 970.9,967.4 971.4,966.5 971.9,968.6 972.4,971.2 973.0,972.7 973.5,969.3 974.0,980.0 974.5,983.8 975.0,987.6 975.5,985.7 976.0,993.2 976.5,995.4 977.0,991.1 977.6,991.7 978.1,1002.9 978.6,1000.1 979.1,1008.7 979.6,1014.5 980.1,1007.4 980.6,1009.1 981.1,1013.4 981.7,1017.7 982.2,1013.8 982.7,1023.6 983.2,1024.8 983.7,1025.7 984.2,1023.9 984.7,1030.6 985.2,1032.4 985.7,1027.9 986.3,1040.4 986.8,1034.8 987.3,1038.9 987.8,1038.0 988.3,1042.9 988.8,1047.2 989.3,1043.0 989.8,1042.3 990.3,1048.0 990.9,1047.3 991.4,1051.0 991.9,1054.9 992.4,1057.0 992.9,1063.1 993.4,1058.0 993.9,1064.1 994.4,1063.4 995.0,1071.0 995.5,1076.4 996.0,1071.7 996.5,1077.6 997.0,1072.7 997.5,1070.8 998.0,1072.7 998.5,1072.7 999.0,1075.4 999.6,1078.4 1000.1,1083.4 1000.6,1083.0 1001.1,1083.1 1001.6,1081.5 1002.1,1081.5 1002.6,1084.6 1003.1,1085.7 1003.6,1087.0 1004.2,1088.2 1004.7,1087.7 1005.2,1083.4 1005.7,1086.6 1006.2,1088.3 1006.7,1096.4 1007.2,1091.2 1007.7,1095.3 1008.3,1098.4 1008.8,1096.1 1009.3,1094.9 1009.8,1096.1 1010.3,1094.9 1010.8,1099.7 1011.3,1103.1 1011.8,1102.8 1012.3,1104.7 1012.9,1105.8 1013.4,1110.7 1013.9,1104.8 1014.4,1098.5 1014.9,1111.2 1015.4,1114.0 1015.9,1105.3 1016.4,1111.8 1016.9,1114.0 1017.5,1113.1 1018.0,1119.5 1018.5,1119.2 1019.0,1118.9 1019.5,1116.9 1020.0,1119.1 1020.5,1121.3 1021.0,1126.4 1021.6,1123.2 1022.1,1122.1 1022.6,1124.8 1023.1,1128.1 1023.6,1135.0 1024.1,1138.2 1024.6,1131.5 1025.1,1136.2 1025.6,1138.4 1026.2,1139.1 1026.7,1136.5 1027.2,1134.4 1027.7,1129.9 1028.2,1135.1 1028.7,1141.5 1029.2,1143.9 1029.7,1138.1 1030.2,1143.8 1030.8,1152.4 1031.3,1149.0 1031.8,1150.1 1032.3,1149.2 1032.8,1145.8 1033.3,1146.8 1033.8,1151.0 1034.3,1146.8 1034.8,1148.4 1035.4,1139.3 1035.9,1149.4 1036.4,1145.9 1036.9,1148.8 1037.4,1151.4 1037.9,1149.6 1038.4,1153.2 1038.9,1153.8 1039.5,1149.2 1040.0,1149.9 1040.5,1151.1 1041.0,1148.6 1041.5,1152.8 1042.0,1151.7 1042.5,1154.4 1043.0,1151.2 1043.5,1150.7 1044.1,1157.7 1044.6,1151.2 1045.1,1152.2 1045.6,1152.1 1046.1,1153.4 1046.6,1163.3 1047.1,1154.4 1047.6,1152.9 1048.1,1153.8 1048.7,1148.0 1049.2,1156.9 1049.7,1156.5 1050.2,1153.7 1050.7,1156.7 1051.2,1155.6 1051.7,1155.8 1052.2,1152.0 1052.8,1158.0 1053.3,1156.2 1053.8,1160.9 1054.3,1158.5 1054.8,1154.3 1055.3,1166.2 1055.8,1149.2 1056.3,1155.4 1056.8,1159.5 1057.4,1157.2 1057.9,1163.3 1058.4,1158.5 1058.9,1162.2 1059.4,1161.9 1059.9,1157.7 1060.4,1158.2 1060.9,1162.8 1061.4,1159.3 1062.0,1157.4 1062.5,1162.6 1063.0,1166.2 1063.5,1160.0 1064.0,1163.7 1064.5,1160.0 1065.0,1163.9 1065.5,1160.2 1066.1,1164.2 1066.6,1162.4 1067.1,1160.7 1067.6,1161.8 1068.1,1160.0 1068.6,1158.6 1069.1,1158.8 1069.6,1161.3 1070.1,1159.0 1070.7,1162.7 1071.2,1163.0 1071.7,1162.9 1072.2,1160.6 1072.7,1162.0 1073.2,1161.9 1073.7,1165.2 1074.2,1160.1 1074.7,1161.2 1075.3,1161.6 1075.8,1161.9 1076.3,1160.5 1076.8,1160.8 1077.3,1164.9 1077.8,1160.9 1078.3,1164.7 1078.8,1167.5 1079.3,1165.7 1079.9,1158.3 1080.4,1164.6 1080.9,1164.0 1081.4,1164.2 1081.9,1159.0 1082.4,1164.8 1082.9,1160.4 1083.4,1166.2 1084.0,1165.7 1084.5,1169.4 1085.0,1162.3 1085.5,1159.6 1086.0,1165.9 1086.5,1165.5 1087.0,1162.5 1087.5,1166.8 1088.0,1165.3 1088.6,1160.5 1089.1,1162.8 1089.6,1162.7 1090.1,1163.6 1090.6,1164.3 1091.1,1162.2 1091.6,1163.5 1092.1,1165.5 1092.6,1163.9 1093.2,1163.5 1093.7,1163.5 1094.2,1164.0 1094.7,1159.7 1095.2,1164.8 1095.7,1162.0 1096.2,1164.8 1096.7,1161.0 1097.3,1166.8 1097.8,1165.1 1098.3,1161.2 1098.8,1165.0 1099.3,1162.4 1099.8,1168.6 1100.3,1165.3 1100.8,1162.0 1101.3,1164.4 1101.9,1163.7 1102.4,1166.6 1102.9,1164.4 1103.4,1164.7 1103.9,1160.7 1104.4,1165.2 1104.9,1168.3 1105.4,1164.6 1105.9,1162.9 1106.5,1163.3 1107.0,1160.5 1107.5,1163.1 1108.0,1159.9 1108.5,1162.6 1109.0,1161.4 1109.5,1160.2 1110.0,1163.6 1110.6,1158.4 1111.1,1161.9 1111.6,1158.6 1112.1,1166.2 1112.6,1166.5 1113.1,1163.6 1113.6,1166.1 1114.1,1162.8 1114.6,1162.6 1115.2,1160.1 1115.7,1158.8 1116.2,1161.2 1116.7,1159.5 1117.2,1159.7 1117.7,1162.4 1118.2,1160.2 1118.7,1156.6 1119.2,1159.8 1119.8,1158.3 1120.3,1159.4 1120.8,1157.3 1121.3,1162.8 1121.8,1164.5 1122.3,1157.0 1122.8,1161.2 1123.3,1161.0 1123.9,1156.8 1124.4,1159.5 1124.9,1162.6 1125.4,1161.2 1125.9,1162.9 1126.4,1156.0 1126.9,1156.9 1127.4,1159.4 1127.9,1159.4 1128.5,1158.5 1129.0,1157.4 1129.5,1157.2 1130.0,1156.6 1130.5,1159.1 1131.0,1151.1 1131.5,1161.8 1132.0,1156.5 1132.5,1154.2 1133.1,1159.0 1133.6,1154.2 1134.1,1158.6 1134.6,1156.6 1135.1,1159.0 1135.6,1159.5 1136.1,1160.7 1136.6,1156.3 1137.1,1156.8 1137.7,1157.4 1138.2,1153.9 1138.7,1158.9 1139.2,1157.7 1139.7,1154.0 1140.2,1160.3 1140.7,1160.7 1141.2,1154.0 1141.8,1158.6 1142.3,1160.3 1142.8,1159.3 1143.3,1154.8 1143.8,1153.7 1144.3,1156.8 1144.8,1155.9 1145.3,1157.0 1145.8,1156.8 1146.4,1158.3 1146.9,1155.6 1147.4,1156.6 1147.9,1164.3 1148.4,1156.6 1148.9,1158.7 1149.4,1157.6 1149.9,1157.4 1150.4,1154.6 1151.0,1158.1 1151.5,1156.6 1152.0,1158.8 1152.5,1161.8 1153.0,1157.1 1153.5,1158.5 1154.0,1154.1 1154.5,1156.9 1155.1,1160.4 1155.6,1156.4 1156.1,1155.0 1156.6,1157.0 1157.1,1156.0 1157.6,1155.9 1158.1,1155.5 1158.6,1161.3 1159.1,1154.3 1159.7,1155.4 1160.2,1154.9 1160.7,1159.4 1161.2,1155.6 1161.7,1159.5 1162.2,1156.7 1162.7,1156.2 1163.2,1152.6 1163.7,1159.2 1164.3,1157.5 1164.8,1157.1 1165.3,1155.8 1165.8,1155.1 1166.3,1152.9 1166.8,1158.3 1167.3,1156.5 1167.8,1154.8 1168.4,1154.0 1168.9,1155.7 1169.4,1155.0 1169.9,1159.2 1170.4,1156.9 1170.9,1153.3 1171.4,1151.9 1171.9,1153.9 1172.4,1152.1 1173.0,1154.4 1173.5,1155.1 1174.0,1155.5 1174.5,1154.8 1175.0,1153.2 1175.5,1155.0 1176.0,1151.1 1176.5,1153.0 1177.0,1155.1 1177.6,1153.6 1178.1,1149.6 1178.6,1149.7 1179.1,1148.4 1179.6,1156.8 1180.1,1148.3 1180.6,1151.7 1181.1,1156.4 1181.6,1154.4 1182.2,1154.9 1182.7,1150.2 1183.2,1153.1 1183.7,1158.7 1184.2,1158.3 1184.7,1151.9 1185.2,1149.9 1185.7,1150.5 1186.3,1151.3 1186.8,1153.7 1187.3,1147.9 1187.8,1146.4 1188.3,1149.9 1188.8,1150.2 1189.3,1153.1 1189.8,1151.2 1190.3,1147.6 1190.9,1150.4 1191.4,1151.6 1191.9,1149.2 1192.4,1147.3 1192.9,1149.6 1193.4,1146.7 1193.9,1142.6 1194.4,1150.4 1194.9,1143.5 1195.5,1145.6 1196.0,1145.4 1196.5,1145.0 1197.0,1144.9 1197.5,1141.7 1198.0,1146.3 1198.5,1144.8 1199.0,1144.5 1199.6,1146.9 1200.1,1146.6 1200.6,1147.0 1201.1,1148.0 1201.6,1144.1 1202.1,1138.8 1202.6,1143.0 1203.1,1142.2 1203.6,1142.0 1204.2,1140.0 1204.7,1139.0 1205.2,1143.0 1205.7,1143.2 1206.2,1137.5 1206.7,1141.5 1207.2,1139.4 1207.7,1138.5 1208.2,1141.0 1208.8,1138.8 1209.3,1137.2 1209.8,1131.8 1210.3,1133.0 1210.8,1129.1 1211.3,1136.4 1211.8,1133.6 1212.3,1137.4 1212.9,1137.3 1213.4,1134.8 1213.9,1135.6 1214.4,1137.5 1214.9,1138.2 1215.4,1133.2 1215.9,1143.9 1216.4,1137.3 1216.9,1134.2 1217.5,1127.4 1218.0,1131.7 1218.5,1132.6 1219.0,1130.5 1219.5,1138.2 1220.0,1131.2 1220.5,1133.4 1221.0,1132.6 1221.5,1133.5 1222.1,1130.6 1222.6,1127.9 1223.1,1135.4 1223.6,1130.6 1224.1,1130.9 1224.6,1130.8 1225.1,1133.3 1225.6,1131.8 1226.2,1132.6 1226.7,1131.4 1227.2,1129.4 1227.7,1129.4 1228.2,1126.5 1228.7,1123.1 1229.2,1127.3 1229.7,1124.9 1230.2,1134.3 1230.8,1131.3 1231.3,1130.0 1231.8,1125.2 1232.3,1131.8 1232.8,1121.6 1233.3,1122.7 1233.8,1123.6 1234.3,1122.8 1234.8,1125.5 1235.4,1125.4 1235.9,1129.7 1236.4,1127.0 1236.9,1127.3 1237.4,1124.9 1237.9,1123.2 1238.4,1121.5 1238.9,1119.1 1239.4,1120.7 1240.0,1122.0 1240.5,1125.1 1241.0,1118.6 1241.5,1119.5 1242.0,1123.7 1242.5,1120.3 1243.0,1124.0 1243.5,1122.1 1244.1,1121.2 1244.6,1119.7 1245.1,1123.0 1245.6,1115.5 1246.1,1121.6 1246.6,1121.6 1247.1,1123.8 1247.6,1123.7 1248.1,1118.8 1248.7,1122.9 1249.2,1124.4 1249.7,1126.1 1250.2,1125.5 1250.7,1124.0 1251.2,1120.4 1251.7,1121.4 1252.2,1125.9 1252.7,1121.6 1253.3,1126.2 1253.8,1126.9 1254.3,1120.7 1254.8,1124.7 1255.3,1123.3 1255.8,1129.0 1256.3,1125.9 1256.8,1122.3 1257.4,1124.7 1257.9,1132.2 1258.4,1123.3 1258.9,1124.3 1259.4,1124.1 1259.9,1124.6 1260.4,1121.4 1260.9,1118.9 1261.4,1122.8 1262.0,1121.5 1262.5,1122.0 1263.0,1130.3 1263.5,1127.0 1264.0,1123.4 1264.5,1120.1 1265.0,1120.5 1265.5,1124.9 1266.0,1126.8 1266.6,1123.2 1267.1,1124.4 1267.6,1124.7 1268.1,1126.9 1268.6,1119.1 1269.1,1124.5 1269.6,1125.2 1270.1,1126.6 1270.7,1125.2 1271.2,1121.2 1271.7,1122.6 1272.2,1120.1 1272.7,1124.7 1273.2,1124.7 1273.7,1125.5 1274.2,1121.6 1274.7,1121.2 1275.3,1128.3 1275.8,1124.7 1276.3,1128.9 1276.8,1125.4 1277.3,1120.4 1277.8,1126.4 1278.3,1127.6 1278.8,1123.1 1279.3,1119.2 1279.9,1126.1 1280.4,1124.0 1280.9,1114.7 1281.4,1117.2 1281.9,1125.0 1282.4,1116.4 1282.9,1120.8 1283.4,1124.6 1283.9,1117.7 1284.5,1117.4 1285.0,1120.1 1285.5,1123.5 1286.0,1122.5 1286.5,1118.4 1287.0,1119.8 1287.5,1118.4 1288.0,1117.3 1288.6,1116.8 1289.1,1115.9 1289.6,1117.3 1290.1,1118.5 1290.6,1121.3 1291.1,1121.2 1291.6,1118.6 1292.1,1121.7 1292.6,1126.0 1293.2,1127.5 1293.7,1125.3 1294.2,1130.3 1294.7,1130.9 1295.2,1132.5 1295.7,1133.1 1296.2,1136.5 1296.7,1138.7 1297.2,1137.6 1297.8,1133.8 1298.3,1135.2 1298.8,1136.5 1299.3,1138.9 1299.8,1138.7 1300.3,1139.5 1300.8,1134.3 1301.3,1143.6 1301.9,1135.2 1302.4,1144.1 1302.9,1141.6 1303.4,1143.2 1303.9,1140.0 1304.4,1139.9 1304.9,1141.3 1305.4,1144.4 1305.9,1142.8 1306.5,1140.5 1307.0,1143.8 1307.5,1144.9 1308.0,1144.5 1308.5,1142.6 1309.0,1144.6 1309.5,1143.6 1310.0,1144.1 1310.5,1144.9 1311.1,1147.3 1311.6,1150.3 1312.1,1150.0 1312.6,1148.2 1313.1,1146.1 1313.6,1146.8 1314.1,1147.5 1314.6,1151.5 1315.2,1141.4 1315.7,1150.3 1316.2,1145.2 1316.7,1150.7 1317.2,1154.5 1317.7,1149.4 1318.2,1146.5 1318.7,1156.0 1319.2,1157.0 1319.8,1155.0 1320.3,1157.4 1320.8,1152.8 1321.3,1158.2 1321.8,1160.0 1322.3,1157.9 1322.8,1157.5 1323.3,1160.5 1323.8,1160.6 1324.4,1156.5 1324.9,1162.2 1325.4,1161.1 1325.9,1160.0 1326.4,1163.1 1326.9,1162.4 1327.4,1162.2 1327.9,1159.4 1328.5,1162.9 1329.0,1158.3 1329.5,1161.0 1330.0,1157.4 1330.5,1157.6 1331.0,1163.0 1331.5,1162.0 1332.0,1162.6 1332.5,1164.0 1333.1,1163.7 1333.6,1160.9 1334.1,1163.4 1334.6,1163.3 1335.1,1162.5 1335.6,1163.6 1336.1,1163.3 1336.6,1162.8 1337.1,1163.8 1337.7,1165.4 1338.2,1170.0 1338.7,1163.3 1339.2,1166.7 1339.7,1162.2 1340.2,1169.8 1340.7,1165.3 1341.2,1166.7 1341.7,1169.7 1342.3,1169.2 1342.8,1163.4 1343.3,1168.6 1343.8,1166.9 1344.3,1169.2 1344.8,1168.3 1345.3,1169.9 1345.8,1176.6 1346.4,1168.3 1346.9,1171.7 1347.4,1165.5 1347.9,1168.4 1348.4,1167.4 1348.9,1169.6 1349.4,1169.1 1349.9,1170.0 1350.4,1169.5 1351.0,1169.8 1351.5,1167.2 1352.0,1171.3 1352.5,1172.4 1353.0,1170.5 1353.5,1170.6 1354.0,1170.9 1354.5,1176.6 1355.0,1173.3 1355.6,1174.1 1356.1,1172.7 1356.6,1172.5 1357.1,1171.8 1357.6,1177.8 1358.1,1170.4 1358.6,1175.3 1359.1,1174.8 1359.7,1174.5 1360.2,1171.7 1360.7,1172.7 1361.2,1178.2 1361.7,1174.5 1362.2,1178.4 1362.7,1178.2 1363.2,1178.2 1363.7,1178.9 1364.3,1174.5 1364.8,1176.5 1365.3,1179.5 1365.8,1175.2 1366.3,1182.3 1366.8,1177.3 1367.3,1178.7 1367.8,1176.6 1368.3,1180.0 1368.9,1177.6 1369.4,1178.9 1369.9,1176.9 1370.4,1182.5 1370.9,1176.0 1371.4,1181.0 1371.9,1180.7 1372.4,1186.9 1373.0,1178.0 1373.5,1182.9 1374.0,1182.9 1374.5,1181.2 1375.0,1181.6 1375.5,1180.7 1376.0,1182.7 1376.5,1179.4 1377.0,1182.7 1377.6,1182.5 1378.1,1178.4 1378.6,1175.7 1379.1,1174.9 1379.6,1181.7 1380.1,1185.1 1380.6,1182.5 1381.1,1181.3 1381.6,1179.5 1382.2,1182.6 1382.7,1181.5 1383.2,1180.5 1383.7,1182.9 1384.2,1185.8 1384.7,1183.6 1385.2,1181.1 1385.7,1184.5 1386.2,1181.3 1386.8,1180.3 1387.3,1185.2 1387.8,1183.0 1388.3,1186.9 1388.8,1185.2 1389.3,1182.8 1389.8,1185.2 1390.3,1187.8 1390.9,1184.5 1391.4,1182.6 1391.9,1183.6 1392.4,1183.3 1392.9,1182.5 1393.4,1176.5 1393.9,1186.4 1394.4,1188.0 1394.9,1184.7 1395.5,1187.4 1396.0,1187.8 1396.5,1189.7 1397.0,1185.4 1397.5,1185.1 1398.0,1187.0 1398.5,1186.3 1399.0,1186.9 1399.5,1189.2 1400.1,1185.3 1400.6,1186.9 1401.1,1184.2 1401.6,1186.2 1402.1,1185.1 1402.6,1184.9 1403.1,1186.3 1403.6,1185.8 1404.2,1187.8 1404.7,1188.8 1405.2,1183.6 1405.7,1189.5 1406.2,1182.1 1406.7,1187.9 1407.2,1189.0 1407.7,1186.0 1408.2,1187.0 1408.8,1185.8 1409.3,1189.7 1409.8,1180.5 1410.3,1185.6 1410.8,1183.5 1411.3,1188.4 1411.8,1179.7 1412.3,1190.9 1412.8,1189.8 1413.4,1188.9 1413.9,1186.6 1414.4,1191.3 1414.9,1190.0 1415.4,1186.7 1415.9,1185.8 1416.4,1187.3 1416.9,1191.3 1417.5,1191.8 1418.0,1192.7 1418.5,1187.2 1419.0,1188.1 1419.5,1180.4 1420.0,1189.4 1420.5,1190.6 1421.0,1185.8 1421.5,1188.0 1422.1,1188.8 1422.6,1188.0 1423.1,1187.8 1423.6,1185.0 1424.1,1192.4 1424.6,1189.0 1425.1,1185.3 1425.6,1191.1 1426.1,1188.8 1426.7,1190.2 1427.2,1188.1 1427.7,1186.7 1428.2,1186.8 1428.7,1189.3 1429.2,1190.2 1429.7,1189.6 1430.2,1189.9 1430.8,1191.2 1431.3,1189.0 1431.8,1182.0 1432.3,1190.9 1432.8,1189.0 1433.3,1188.1 1433.8,1187.3 1434.3,1185.5 1434.8,1184.7 1435.4,1191.2 1435.9,1188.2 1436.4,1186.9 1436.9,1191.8 1437.4,1190.3 1437.9,1188.2 1438.4,1190.4 1438.9,1187.6 1439.4,1188.9 1440.0,1192.2 1440.5,1190.4 1441.0,1187.3 1441.5,1189.5 1442.0,1190.6 1442.5,1187.6 1443.0,1186.9 1443.5,1192.2 1444.0,1187.2 1444.6,1184.8 1445.1,1188.1 1445.6,1193.0 1446.1,1189.1 1446.6,1189.7 1447.1,1182.3 1447.6,1185.7 1448.1,1189.6 1448.7,1185.6 1449.2,1189.3 1449.7,1187.1 1450.2,1186.7 1450.7,1189.4 1451.2,1184.1 1451.7,1184.0 1452.2,1185.0 1452.7,1185.0 1453.3,1180.3 1453.8,1186.9 1454.3,1184.3 1454.8,1183.1 1455.3,1184.7 1455.8,1182.1 1456.3,1185.6 1456.8,1182.7 1457.3,1183.9 1457.9,1179.9 1458.4,1181.1 1458.9,1182.3 1459.4,1179.1 1459.9,1189.3 1460.4,1181.0 1460.9,1183.9 1461.4,1183.2 1462.0,1183.8 1462.5,1182.6 1463.0,1184.1 1463.5,1185.8 1464.0,1182.8 1464.5,1183.6 1465.0,1184.2 1465.5,1178.4 1466.0,1183.0 1466.6,1184.4 1467.1,1185.4 1467.6,1183.1 1468.1,1186.3 1468.6,1182.7 1469.1,1184.0 1469.6,1188.5 1470.1,1181.7 1470.6,1184.8 1471.2,1184.8 1471.7,1185.1 1472.2,1184.3 1472.7,1187.2 1473.2,1183.5 1473.7,1183.1 1474.2,1187.5 1474.7,1183.9 1475.3,1187.7 1475.8,1187.1 1476.3,1185.8 1476.8,1186.8 1477.3,1187.6 1477.8,1189.1 1478.3,1186.9 1478.8,1179.8 1479.3,1185.6 1479.9,1188.5 1480.4,1185.0 1480.9,1189.5 1481.4,1188.8 1481.9,1194.9 1482.4,1193.3 1482.9,1190.3 1483.4,1193.0 1483.9,1191.7 1484.5,1188.7 1485.0,1186.1 1485.5,1194.4 1486.0,1193.0 1486.5,1187.9 1487.0,1194.1 1487.5,1194.9 1488.0,1191.5 1488.5,1195.0 1489.1,1189.4 1489.6,1192.9 1490.1,1193.6 1490.6,1195.4 1491.1,1194.6 1491.6,1194.3 1492.1,1195.2 1492.6,1192.6 1493.2,1197.5 1493.7,1193.5 1494.2,1196.1 1494.7,1194.4 1495.2,1194.0 1495.7,1196.0 1496.2,1195.8 1496.7,1187.8 1497.2,1197.4 1497.8,1193.8 1498.3,1196.3 1498.8,1195.5 1499.3,1193.6 1499.8,1193.0 1500.3,1196.2 1500.8,1194.5 1501.3,1192.7 1501.8,1195.7 1502.4,1196.5 1502.9,1196.4 1503.4,1193.5 1503.9,1195.0 1504.4,1199.5 1504.9,1194.8 1505.4,1195.9 1505.9,1201.9 1506.5,1197.7 1507.0,1195.8 1507.5,1192.7 1508.0,1197.9 1508.5,1194.2 1509.0,1197.3 1509.5,1195.5 1510.0,1193.8 1510.5,1204.0 1511.1,1197.6 1511.6,1200.0 1512.1,1199.7 1512.6,1196.5 1513.1,1198.4 1513.6,1197.5 1514.1,1200.6 1514.6,1205.8 1515.1,1197.8 1515.7,1202.4 1516.2,1200.0 1516.7,1199.9 1517.2,1197.2 1517.7,1199.9 1518.2,1195.8 1518.7,1200.1 1519.2,1197.0 1519.8,1199.6 1520.3,1198.6 1520.8,1199.8 1521.3,1200.1 1521.8,1199.3 1522.3,1199.3 1522.8,1196.2 1523.3,1195.3 1523.8,1202.4 1524.4,1200.9 1524.9,1196.4 1525.4,1204.0 1525.9,1198.2 1526.4,1201.0 1526.9,1200.8 1527.4,1200.2 1527.9,1205.6 1528.4,1197.0 1529.0,1200.0 1529.5,1199.6 1530.0,1200.4 1530.5,1199.6 1531.0,1198.9 1531.5,1198.7 1532.0,1202.4 1532.5,1198.6 1533.1,1201.3 1533.6,1201.3 1534.1,1200.4 1534.6,1201.6 1535.1,1201.9 1535.6,1199.6 1536.1,1201.6 1536.6,1205.1 1537.1,1198.5 1537.7,1200.3 1538.2,1199.3 1538.7,1205.5 1539.2,1198.0 1539.7,1201.2 1540.2,1203.3 1540.7,1199.3 1541.2,1201.0 1541.7,1199.8 1542.3,1198.4 1542.8,1201.3 1543.3,1202.6 1543.8,1200.7 1544.3,1207.9 1544.8,1203.2 1545.3,1204.4 1545.8,1199.0 1546.3,1203.2 1546.9,1196.7 1547.4,1197.8 1547.9,1200.3 1548.4,1203.5 1548.9,1202.8 1549.4,1199.7 1549.9,1205.8 1550.4,1195.3 1551.0,1202.1 1551.5,1201.1 1552.0,1203.3 1552.5,1201.6 1553.0,1205.0 1553.5,1203.2 1554.0,1204.0 1554.5,1202.0 1555.0,1199.4 1555.6,1203.9 1556.1,1200.6 1556.6,1202.6 1557.1,1202.9 1557.6,1201.2 1558.1,1204.8 1558.6,1199.6 1559.1,1205.8 1559.6,1201.0 1560.2,1204.3 1560.7,1204.8 1561.2,1199.8 1561.7,1199.9 1562.2,1203.4 1562.7,1201.5 1563.2,1201.1 1563.7,1196.6 1564.3,1196.9 1564.8,1201.5 1565.3,1203.3 1565.8,1198.3 1566.3,1197.8 1566.8,1199.9 1567.3,1200.3 1567.8,1200.3 1568.3,1197.9 1568.9,1194.3 1569.4,1201.7 1569.9,1197.1 1570.4,1200.8 1570.9,1193.4 1571.4,1198.5 1571.9,1196.4 1572.4,1195.0 1572.9,1199.6 1573.5,1200.3 1574.0,1196.1 1574.5,1198.8 1575.0,1195.0 1575.5,1196.0 1576.0,1196.8 1576.5,1196.6 1577.0,1198.8 1577.6,1194.7 1578.1,1199.5 1578.6,1199.5 1579.1,1196.8 1579.6,1194.7 1580.1,1192.0 1580.6,1197.2 1581.1,1195.7 1581.6,1197.5 1582.2,1194.9 1582.7,1197.3 1583.2,1197.1 1583.7,1197.3 1584.2,1197.9 1584.7,1197.9 1585.2,1199.4 1585.7,1195.5 1586.2,1198.9 1586.8,1197.6 1587.3,1196.3 1587.8,1195.0 1588.3,1200.5 1588.8,1197.8 1589.3,1196.1 1589.8,1197.4 1590.3,1197.2 1590.8,1196.0 1591.4,1194.1 1591.9,1197.5 1592.4,1196.8 1592.9,1196.6 1593.4,1199.4 1593.9,1194.3 1594.4,1195.1 1594.9,1197.5 1595.5,1199.0 1596.0,1198.5 1596.5,1198.8 1597.0,1192.3 1597.5,1198.2 1598.0,1198.1 1598.5,1198.7 1599.0,1195.6 1599.5,1198.3 1600.1,1199.4 1600.6,1200.7 1601.1,1197.7 1601.6,1194.2 1602.1,1197.2 1602.6,1198.5 1603.1,1198.2 1603.6,1201.3 1604.1,1196.6 1604.7,1194.8 1605.2,1195.7 1605.7,1198.5 1606.2,1195.3 1606.7,1194.7 1607.2,1195.2 1607.7,1199.7 1608.2,1197.6 1608.8,1196.3 1609.3,1198.9 1609.8,1198.6 1610.3,1194.8 1610.8,1198.5 1611.3,1196.6 1611.8,1190.5 1612.3,1191.3 1612.8,1193.3 1613.4,1199.8 1613.9,1189.4 1614.4,1186.2 1614.9,1186.9 1615.4,1180.9 1615.9,1183.4 1616.4,1179.9 1616.9,1177.4 1617.4,1173.2 1618.0,1171.3 1618.5,1164.1 1619.0,1162.1 1619.5,1160.2 1620.0,1157.0 1620.5,1156.9 1621.0,1156.1 1621.5,1155.8 1622.1,1158.4 1622.6,1158.6 1623.1,1161.1 1623.6,1161.5 1624.1,1163.5 1624.6,1171.0 1625.1,1168.7 1625.6,1169.1 1626.1,1170.8 1626.7,1176.1 1627.2,1180.6 1627.7,1176.8 1628.2,1182.2 1628.7,1175.8 1629.2,1181.0 1629.7,1187.4 1630.2,1191.1 1630.7,1189.1 1631.3,1191.3 1631.8,1191.5 1632.3,1193.8 1632.8,1189.7 1633.3,1194.1 1633.8,1192.3 1634.3,1193.1 1634.8,1194.2 1635.4,1194.1 1635.9,1193.0 1636.4,1194.2 1636.9,1192.7 1637.4,1198.1 1637.9,1196.5 1638.4,1194.0 1638.9,1198.5 1639.4,1197.9 1640.0,1196.2 1640.5,1193.9 1641.0,1195.8 1641.5,1196.5 1642.0,1198.4 1642.5,1194.9 1643.0,1194.1 1643.5,1200.5 1644.0,1198.6 1644.6,1196.2 1645.1,1193.5 1645.6,1196.7 1646.1,1198.2 1646.6,1197.4 1647.1,1197.6 1647.6,1202.4 1648.1,1198.4 1648.6,1194.6 1649.2,1195.0 1649.7,1194.9 1650.2,1194.6 1650.7,1200.5 1651.2,1192.4 1651.7,1196.7 1652.2,1194.1 1652.7,1193.5 1653.3,1191.2 1653.8,1192.9 1654.3,1196.2 1654.8,1201.6 1655.3,1196.3 1655.8,1197.6 1656.3,1194.8 1656.8,1197.8 1657.3,1193.5 1657.9,1197.4 1658.4,1196.8 1658.9,1202.0 1659.4,1197.0 1659.9,1196.5 1660.4,1196.2 1660.9,1194.9 1661.4,1199.3 1661.9,1201.0 1662.5,1197.0 1663.0,1199.5 1663.5,1197.2 1664.0,1199.0 1664.5,1199.2 1665.0,1195.1 1665.5,1196.7 1666.0,1200.6 1666.6,1194.4 1667.1,1198.7 1667.6,1198.0 1668.1,1196.8 1668.6,1199.1 1669.1,1199.8 1669.6,1200.4 1670.1,1193.5 1670.6,1203.1 1671.2,1198.4 1671.7,1201.9 1672.2,1199.4 1672.7,1198.5 1673.2,1199.8 1673.7,1207.1 1674.2,1203.6 1674.7,1199.4 1675.2,1200.8 1675.8,1202.9 1676.3,1201.8 1676.8,1200.8 1677.3,1200.3 1677.8,1198.4 1678.3,1202.6 1678.8,1203.5 1679.3,1206.1 1679.9,1200.0 1680.4,1202.8 1680.9,1201.3 1681.4,1204.3 1681.9,1209.1 1682.4,1200.3 1682.9,1198.1 1683.4,1203.5 1683.9,1202.4 1684.5,1204.6 1685.0,1201.0 1685.5,1208.1 1686.0,1200.8 1686.5,1203.6 1687.0,1203.5 1687.5,1205.1 1688.0,1202.4 1688.5,1200.8 1689.1,1200.7 1689.6,1204.8 1690.1,1203.3 1690.6,1203.9 1691.1,1201.4 1691.6,1203.6 1692.1,1203.8 1692.6,1204.8 1693.1,1210.3 1693.7,1201.8 1694.2,1207.4 1694.7,1202.8 1695.2,1203.6 1695.7,1202.9 1696.2,1200.6 1696.7,1201.6"/>
</g>
<g stroke="#000" stroke-width="4" stroke-linecap="round" stroke-dasharray="14.8 15"><line x1="615" y1="40" x2="615" y2="1276"/><line x1="773" y1="40" x2="773" y2="1276"/><line x1="1291" y1="40" x2="1291" y2="1276"/><line x1="1624" y1="40" x2="1624" y2="1276"/></g>
<g font-size="53"><text x="156.0" y="1359" text-anchor="middle">20</text><text x="411.8" y="1359" text-anchor="middle">30</text><text x="667.7" y="1359" text-anchor="middle">40</text><text x="923.5" y="1359" text-anchor="middle">50</text><text x="1179.3" y="1359" text-anchor="middle">60</text><text x="1435.2" y="1359" text-anchor="middle">70</text><text x="1691.0" y="1359" text-anchor="middle">80</text></g>
<g font-size="65">
<text x="284.1" y="803.7">(100)</text>
<text x="443.8" y="781.2">(101)</text>
<text x="884" y="944" letter-spacing="0.8">(211)</text>
<text x="1639.5" y="295" font-size="66">E</text>
<text x="1634.5" y="728.6" font-size="66">D</text>
<text x="1634" y="1145.5" font-size="66">C</text>
</g>
<text transform="translate(58.4,920) rotate(-90)" font-size="64">Intensity (arb. units)</text>
<text x="880" y="1467.5" font-size="66">2<tspan font-family="'Liberation Serif','DejaVu Serif',serif" font-size="68">θ</tspan></text>
</svg>
</body></html>
